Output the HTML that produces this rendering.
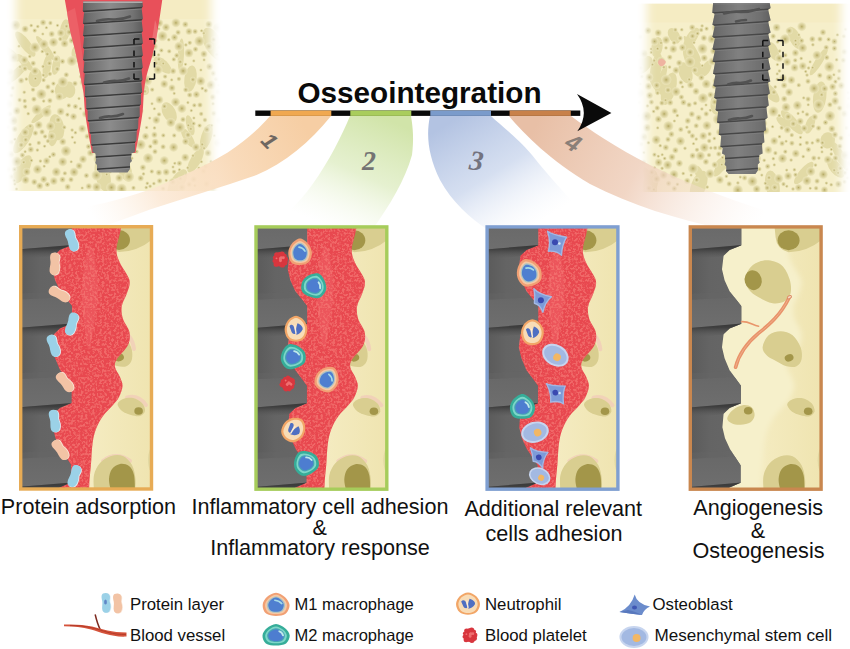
<!DOCTYPE html>
<html lang="en"><head><meta charset="utf-8"><title>Osseointegration</title>
<style>html,body{margin:0;padding:0;background:#fff}svg{display:block}</style></head>
<body><svg width="850" height="649" viewBox="0 0 850 649">
<defs><linearGradient id="gImp" x1="0" x2="1" y1="0" y2="0">
<stop offset="0" stop-color="#565656"/><stop offset=".12" stop-color="#6c6c6c"/><stop offset=".45" stop-color="#8c8c8c"/><stop offset=".8" stop-color="#737373"/><stop offset="1" stop-color="#555"/></linearGradient>
<radialGradient id="gPore"><stop offset="0" stop-color="#b4a962"/><stop offset=".3" stop-color="#cfc58b"/><stop offset=".65" stop-color="#e0d8a6"/><stop offset="1" stop-color="#ede6bc" stop-opacity=".7"/></radialGradient>
<radialGradient id="gPore2"><stop offset="0" stop-color="#cfc588"/><stop offset="1" stop-color="#e6dea9"/></radialGradient>
<filter id="blur6" x="-20%" y="-20%" width="140%" height="140%"><feGaussianBlur stdDeviation="5"/></filter>
<filter id="noise" x="0" y="0" width="100%" height="100%" color-interpolation-filters="sRGB"><feTurbulence type="fractalNoise" baseFrequency="0.42" numOctaves="2" seed="4" result="n"/><feColorMatrix in="n" type="matrix" values="0 0 0 0 0.96  0 0 0 0 0.49  0 0 0 0 0.47  6 0 0 0 -2.75"/></filter>
<filter id="blur1" x="-5%" y="-5%" width="110%" height="110%"><feGaussianBlur stdDeviation="0.7"/></filter>
<filter id="blur3" x="-20%" y="-20%" width="140%" height="140%"><feGaussianBlur stdDeviation="2.5"/></filter>
<mask id="mb1" maskUnits="userSpaceOnUse" x="-7" y="-10" width="241" height="211"><rect x="16" y="-20" width="195" height="231" fill="#fff" filter="url(#blur6)"/></mask>
<clipPath id="cb1"><rect x="3" y="0" width="221" height="191"/></clipPath>
<mask id="mb2" maskUnits="userSpaceOnUse" x="624" y="-6.5" width="240" height="208.5"><rect x="647" y="-16.5" width="194" height="228.5" fill="#fff" filter="url(#blur6)"/></mask>
<clipPath id="cb2"><rect x="634" y="3.5" width="220" height="188.5"/></clipPath>
<clipPath id="ciL"><path d="M83.2 1.5L82.8 10.9L84.1 12.3L82.9 23.1L84.2 24.5L83 35.3L84.2 36.7L83 47.5L84.3 48.9L83.1 59.7L84.4 61.1L83.5 71.9L84.8 73.3L83.9 84.1L85.1 85.5L84.8 96.3L86.1 97.7L86.3 108.5L87.6 109.9L87.7 120.7L89 122.1L89.6 132.9L90.9 134.3L91.3 145.1L92.5 146.5L92.5 152L95.5 153.5L96 160L95.2 163L97 165L97 170L99.5 172.5L127.5 172.5L130 169L130 163L132 161L131 158L131.5 153.5L135 152L135.1 142.1L136.4 140.7L136.8 129.9L138.1 128.5L138.5 117.7L139.8 116.3L139.7 105.5L141 104.1L140.9 93.3L142.2 91.9L141.3 81.1L142.6 79.7L141.5 68.9L142.8 67.5L141.6 56.7L142.9 55.3L141.6 44.5L142.9 43.1L141.6 32.3L142.9 30.9L141.6 20.1L142.9 18.7L141.6 7.9L142.9 6.5L142.4 1.5Z"/></clipPath>
<clipPath id="ciR"><path d="M713.1 3L712.3 12.4L714.7 13.8L712.4 24.6L714.8 26L712.4 36.8L714.9 38.2L712.5 49L715 50.4L712.6 61.2L715.1 62.6L713 73.4L715.4 74.8L713.3 85.6L715.8 87L714.2 97.8L716.7 99.2L715.6 110L718.1 111.4L717 122.2L719.5 123.6L718.8 134.4L721.2 135.8L720.4 146.6L722.8 148L722 153.5L724.9 155L725.4 161.5L724.6 164.5L726.3 166.5L726.3 171.5L728.7 174L755.4 174L757.8 170.5L757.8 164.5L759.7 162.5L758.8 159.5L759.3 155L762.6 153.5L761.9 143.6L764.4 142.2L763.6 131.4L766 130L765.2 119.2L767.6 117.8L766.3 107L768.8 105.6L767.5 94.8L769.9 93.4L767.9 82.6L770.3 81.2L768 70.4L770.5 69L768.1 58.2L770.6 56.8L768.1 46L770.6 44.6L768.1 33.8L770.6 32.4L768.1 21.6L770.6 20.2L768.1 9.4L770.6 8L769.7 3Z"/></clipPath>
<linearGradient id="gs1" gradientUnits="userSpaceOnUse" x1="300" y1="116" x2="95" y2="222"><stop offset="0" stop-color="#f6cea4"/><stop offset=".35" stop-color="#f9dbbb"/><stop offset=".7" stop-color="#fbe6d0" stop-opacity=".8"/><stop offset="1" stop-color="#fdf0e2" stop-opacity="0"/></linearGradient>
<linearGradient id="gs2" gradientUnits="userSpaceOnUse" x1="380" y1="116" x2="330" y2="228"><stop offset="0" stop-color="#d1e4a9"/><stop offset=".5" stop-color="#dfedc4" stop-opacity=".8"/><stop offset="1" stop-color="#f2f8e6" stop-opacity="0"/></linearGradient>
<linearGradient id="gs3" gradientUnits="userSpaceOnUse" x1="460" y1="116" x2="530" y2="228"><stop offset="0" stop-color="#b3c3e2"/><stop offset=".5" stop-color="#cbd7ed" stop-opacity=".8"/><stop offset="1" stop-color="#eef2fa" stop-opacity="0"/></linearGradient>
<linearGradient id="gs4" gradientUnits="userSpaceOnUse" x1="540" y1="116" x2="760" y2="225"><stop offset="0" stop-color="#e8bfa6"/><stop offset=".45" stop-color="#efcfbb" stop-opacity=".85"/><stop offset="1" stop-color="#fbeee6" stop-opacity="0"/></linearGradient>
<pattern id="spk" width="48" height="48" patternUnits="userSpaceOnUse"><g fill="#f6847f" opacity=".6"><circle cx="11.4" cy="26.1" r="0.9"/><circle cx="29" cy="30" r="0.7"/><circle cx="0.6" cy="40.2" r="0.8"/><circle cx="11.2" cy="47.8" r="1"/><circle cx="40.2" cy="22.9" r="1.2"/><circle cx="7.2" cy="30.5" r="1.4"/><circle cx="25.1" cy="35.6" r="1.2"/><circle cx="3.1" cy="36.4" r="1.1"/><circle cx="14.5" cy="1.5" r="1.4"/><circle cx="22.7" cy="34.5" r="1.4"/><circle cx="34.3" cy="44.2" r="1"/><circle cx="38.4" cy="21.3" r="1.4"/><circle cx="42.2" cy="4.7" r="0.7"/><circle cx="10.4" cy="46.3" r="1"/><circle cx="30.1" cy="14.4" r="1.1"/><circle cx="18.5" cy="16.8" r="1.1"/><circle cx="28" cy="43.4" r="1.2"/><circle cx="44.6" cy="41.1" r="1.5"/><circle cx="32.2" cy="7.8" r="1.4"/><circle cx="46.3" cy="43.4" r="1.1"/><circle cx="34.3" cy="10.1" r="1.3"/><circle cx="27.5" cy="13.7" r="0.7"/><circle cx="41" cy="47.5" r="0.7"/><circle cx="38.4" cy="19.7" r="0.7"/><circle cx="14.1" cy="36.9" r="1.4"/><circle cx="2.1" cy="29.5" r="0.6"/><circle cx="34.5" cy="15.9" r="1.4"/><circle cx="47.1" cy="24.3" r="1.5"/><circle cx="14.9" cy="3.7" r="1.1"/><circle cx="1.5" cy="9.5" r="1"/><circle cx="29.3" cy="7.5" r="0.6"/><circle cx="41.7" cy="15.1" r="1.5"/><circle cx="43" cy="18.1" r="1"/><circle cx="25" cy="30.9" r="1.1"/><circle cx="26.8" cy="29.8" r="1.4"/><circle cx="24.3" cy="20.7" r="1.2"/><circle cx="11.4" cy="14.5" r="1.5"/><circle cx="25" cy="26.3" r="0.6"/><circle cx="19.9" cy="27.8" r="0.6"/><circle cx="29.6" cy="30.3" r="0.7"/><circle cx="30.1" cy="22.4" r="1.2"/><circle cx="16.9" cy="33.9" r="1.3"/><circle cx="1.1" cy="2.9" r="1.2"/><circle cx="46.2" cy="12.1" r="1"/><circle cx="28.4" cy="15.4" r="0.9"/><circle cx="15" cy="17.7" r="1.1"/><circle cx="14.4" cy="18.1" r="1.3"/><circle cx="1.3" cy="27.3" r="1.3"/><circle cx="14.9" cy="10.7" r="1.3"/><circle cx="11.5" cy="9" r="1"/><circle cx="33.5" cy="4.9" r="0.9"/><circle cx="16" cy="40" r="1"/><circle cx="41.1" cy="8.1" r="0.9"/><circle cx="31.2" cy="42.5" r="1"/><circle cx="10.8" cy="5.8" r="1.1"/><circle cx="9.2" cy="38.7" r="1.4"/><circle cx="8.8" cy="13.4" r="1.3"/><circle cx="30.8" cy="38.7" r="0.9"/><circle cx="6.2" cy="14" r="1.3"/><circle cx="13" cy="16.6" r="1"/><circle cx="20.1" cy="19.7" r="1.4"/><circle cx="7.5" cy="0.2" r="1.4"/><circle cx="42.2" cy="47.4" r="1"/><circle cx="45.6" cy="44.5" r="0.8"/><circle cx="35.8" cy="40.2" r="1.2"/><circle cx="24.9" cy="13.9" r="0.9"/><circle cx="10.9" cy="3.3" r="1.1"/><circle cx="13.8" cy="38.9" r="0.6"/><circle cx="43.4" cy="33.3" r="1.4"/><circle cx="43" cy="43.2" r="1.1"/><circle cx="0.6" cy="35.8" r="0.8"/><circle cx="14.4" cy="31.8" r="1.1"/><circle cx="19.9" cy="45.1" r="1.2"/><circle cx="16.4" cy="12.1" r="1.4"/><circle cx="22.9" cy="37.6" r="0.9"/><circle cx="9.5" cy="25.7" r="1.3"/><circle cx="8.2" cy="38" r="1.4"/><circle cx="38.7" cy="39.5" r="0.6"/><circle cx="30.2" cy="41.4" r="0.6"/><circle cx="13" cy="12.9" r="1.1"/><circle cx="20.3" cy="22.7" r="1.3"/><circle cx="0.1" cy="2.6" r="0.7"/><circle cx="6" cy="3.3" r="1.5"/><circle cx="41" cy="4.1" r="1.1"/><circle cx="15.2" cy="15.1" r="0.9"/><circle cx="31.1" cy="28.2" r="0.9"/><circle cx="9.2" cy="15.8" r="0.7"/><circle cx="26.7" cy="34.4" r="0.9"/><circle cx="3.8" cy="8.6" r="0.9"/><circle cx="29" cy="37.6" r="0.9"/><circle cx="38.5" cy="29.9" r="1"/><circle cx="17.9" cy="23.8" r="1.2"/><circle cx="20.2" cy="33.3" r="1"/><circle cx="11.8" cy="25.7" r="1.2"/><circle cx="3.4" cy="20.4" r="1"/><circle cx="42.2" cy="45" r="0.9"/><circle cx="43.1" cy="38" r="0.8"/><circle cx="22.3" cy="5.9" r="1.3"/><circle cx="31.8" cy="42.6" r="1.3"/><circle cx="32" cy="35.2" r="1.1"/><circle cx="5" cy="28.2" r="0.6"/><circle cx="6.9" cy="37.2" r="0.6"/><circle cx="4.4" cy="4.8" r="1.4"/><circle cx="8.6" cy="1.1" r="1.4"/><circle cx="5.8" cy="40.5" r="1.2"/><circle cx="40.1" cy="45.7" r="1.1"/><circle cx="38.3" cy="1.7" r="1.3"/><circle cx="24.5" cy="34.3" r="0.7"/><circle cx="36" cy="44.9" r="0.7"/><circle cx="15.6" cy="27.1" r="1.3"/><circle cx="11.6" cy="8.6" r="0.8"/><circle cx="29.6" cy="36.2" r="1"/><circle cx="17.6" cy="19" r="0.9"/><circle cx="20.1" cy="4" r="1.1"/><circle cx="46.7" cy="19.8" r="1.3"/><circle cx="7.7" cy="33.2" r="1.3"/><circle cx="32.3" cy="24.8" r="1"/><circle cx="30.9" cy="43.1" r="0.7"/><circle cx="4.6" cy="35.9" r="1.4"/><circle cx="24.8" cy="21.3" r="1.2"/><circle cx="8.9" cy="12.8" r="0.8"/><circle cx="28.1" cy="15.1" r="0.8"/><circle cx="33.2" cy="45.8" r="0.9"/><circle cx="33.9" cy="19.8" r="1.4"/><circle cx="28.1" cy="12.8" r="0.8"/><circle cx="1.1" cy="23" r="0.9"/><circle cx="8.3" cy="17.3" r="0.9"/><circle cx="37.2" cy="6.9" r="1.5"/><circle cx="23" cy="28.8" r="1"/><circle cx="40.1" cy="39.4" r="1.1"/><circle cx="23.1" cy="34.6" r="1.4"/><circle cx="19.2" cy="35.2" r="1.5"/><circle cx="22.4" cy="11" r="0.8"/><circle cx="34.4" cy="32.4" r="1.5"/><circle cx="41" cy="11.6" r="0.8"/><circle cx="12.4" cy="9" r="1.2"/><circle cx="41.2" cy="43.2" r="0.8"/><circle cx="41.5" cy="15" r="1"/><circle cx="35" cy="4.1" r="0.7"/><circle cx="40" cy="14" r="0.9"/><circle cx="27.9" cy="32.4" r="0.6"/><circle cx="16.1" cy="20.9" r="1"/><circle cx="10.1" cy="28.1" r="1.5"/><circle cx="18.8" cy="26.1" r="0.7"/><circle cx="13.2" cy="31.9" r="0.7"/><circle cx="42.6" cy="43.6" r="0.7"/><circle cx="45.2" cy="18" r="1.3"/><circle cx="36.4" cy="14.2" r="1.2"/><circle cx="31.4" cy="38.7" r="0.8"/><circle cx="36.2" cy="46.1" r="1.2"/><circle cx="25.7" cy="5.4" r="1"/><circle cx="16.9" cy="34.5" r="1.2"/><circle cx="27.2" cy="8.7" r="1.2"/><circle cx="30.3" cy="8.6" r="1.4"/><circle cx="31.5" cy="5.9" r="1.4"/><circle cx="6.8" cy="15.9" r="1.2"/><circle cx="28.7" cy="26.6" r="1.2"/><circle cx="22" cy="15" r="0.8"/><circle cx="3.3" cy="34.4" r="1.3"/><circle cx="26.1" cy="35.5" r="0.9"/><circle cx="12.8" cy="18.4" r="1.4"/><circle cx="2" cy="24.2" r="0.8"/><circle cx="36.9" cy="17" r="0.9"/><circle cx="19.4" cy="26" r="1.3"/><circle cx="16.9" cy="40.7" r="0.7"/><circle cx="13" cy="4.8" r="0.7"/><circle cx="37.4" cy="34.9" r="0.8"/><circle cx="9.1" cy="20" r="1.3"/><circle cx="39.2" cy="35.9" r="1.1"/><circle cx="7" cy="19.1" r="0.8"/><circle cx="25.3" cy="27.3" r="0.8"/><circle cx="12" cy="37.5" r="0.6"/><circle cx="38.6" cy="42.8" r="1.5"/><circle cx="18.4" cy="26.5" r="1.1"/><circle cx="30.4" cy="46.9" r="1.2"/><circle cx="14.4" cy="41.3" r="1"/><circle cx="28.9" cy="34.9" r="0.6"/><circle cx="37" cy="31.8" r="1"/><circle cx="25.1" cy="22.1" r="0.8"/><circle cx="25.4" cy="1.8" r="1.1"/><circle cx="31" cy="21.3" r="1.1"/><circle cx="46" cy="42.8" r="0.7"/><circle cx="38" cy="29.9" r="0.6"/><circle cx="17.3" cy="11.2" r="0.7"/><circle cx="25.9" cy="44.6" r="0.9"/><circle cx="41.8" cy="33.3" r="0.7"/><circle cx="41.2" cy="28.9" r="1.4"/><circle cx="34.4" cy="35.5" r="0.9"/><circle cx="38.7" cy="44.7" r="1.4"/><circle cx="21" cy="36.3" r="1"/><circle cx="5.2" cy="2" r="0.7"/><circle cx="9.6" cy="7.7" r="1"/><circle cx="33.6" cy="25.8" r="1"/><circle cx="31.2" cy="14.6" r="1"/><circle cx="36.3" cy="19.3" r="0.8"/><circle cx="43.2" cy="34.5" r="0.9"/><circle cx="17.8" cy="25.4" r="1.1"/><circle cx="10.7" cy="0.1" r="0.8"/><circle cx="37.6" cy="6.9" r="1"/><circle cx="9.4" cy="10" r="0.8"/><circle cx="19.4" cy="8.1" r="0.6"/><circle cx="5.3" cy="8.1" r="1"/><circle cx="2.9" cy="1.1" r="1"/><circle cx="19.6" cy="33.8" r="0.6"/><circle cx="19.4" cy="19" r="0.6"/><circle cx="46.3" cy="10.5" r="0.7"/><circle cx="22.8" cy="7.9" r="1.2"/><circle cx="16.6" cy="5.9" r="0.6"/><circle cx="34.9" cy="13.2" r="1.3"/><circle cx="22.3" cy="44.8" r="0.9"/><circle cx="12" cy="12.8" r="1.3"/><circle cx="30.2" cy="16.5" r="0.7"/><circle cx="32.8" cy="46.5" r="1.1"/><circle cx="0.2" cy="1.5" r="0.7"/><circle cx="8.2" cy="1.8" r="0.6"/><circle cx="31.4" cy="43.2" r="0.8"/><circle cx="46.7" cy="22.9" r="1.3"/><circle cx="44" cy="45.1" r="0.6"/><circle cx="14.6" cy="29.1" r="1.5"/><circle cx="4.2" cy="14.1" r="1.4"/><circle cx="5.5" cy="18.7" r="0.9"/><circle cx="32.6" cy="44.6" r="0.8"/><circle cx="35.5" cy="35.2" r="1.4"/><circle cx="26.6" cy="44.3" r="0.9"/><circle cx="19.9" cy="11" r="1.3"/><circle cx="23.1" cy="12.9" r="0.8"/><circle cx="34.6" cy="29.1" r="1.2"/><circle cx="18.6" cy="23.4" r="0.7"/><circle cx="34.1" cy="1.1" r="1"/><circle cx="36.4" cy="32.5" r="0.7"/><circle cx="11.4" cy="40.5" r="1.2"/><circle cx="42.2" cy="41.9" r="1"/><circle cx="43.1" cy="35.2" r="0.9"/><circle cx="17.8" cy="3.5" r="1"/><circle cx="45.9" cy="5" r="1.1"/><circle cx="5.3" cy="3.9" r="1.2"/><circle cx="11.6" cy="2.3" r="0.7"/><circle cx="30.9" cy="28.1" r="0.6"/><circle cx="11" cy="46.4" r="0.8"/><circle cx="27" cy="20.1" r="1.3"/><circle cx="29" cy="37.9" r="1.1"/><circle cx="9" cy="8.5" r="0.7"/><circle cx="39.6" cy="5.4" r="0.6"/><circle cx="46.4" cy="9.6" r="1.4"/><circle cx="4.1" cy="22.3" r="0.8"/><circle cx="39.8" cy="29.5" r="1.2"/><circle cx="36.5" cy="41.8" r="0.9"/><circle cx="28.9" cy="21.4" r="0.7"/><circle cx="40.1" cy="28.5" r="1.3"/><circle cx="9.9" cy="25.9" r="1"/><circle cx="34.9" cy="3.7" r="0.9"/><circle cx="23.3" cy="3.4" r="1.1"/><circle cx="35.3" cy="20.3" r="1.2"/><circle cx="29.1" cy="10.3" r="0.9"/><circle cx="47.8" cy="16.1" r="1"/><circle cx="4" cy="10.5" r="0.7"/><circle cx="44.7" cy="34.9" r="1.4"/><circle cx="47.4" cy="29.4" r="1.4"/><circle cx="25.7" cy="20.1" r="1.5"/><circle cx="43.3" cy="45.6" r="1"/></g></pattern>
<linearGradient id="gBone" x1="0" x2="1" y1="0" y2="0"><stop offset="0" stop-color="#f6efc9"/><stop offset=".55" stop-color="#f4ebc0"/><stop offset="1" stop-color="#efe4b0"/></linearGradient>
<rect id="boneB" x="0" y="0" width="134.2" height="265.7" fill="url(#gBone)"/>
<g id="bone" filter="url(#blur1)"><path d="M86 2L134 2L134 14Q118 27 100 27Q88 24 87 12Z" fill="#d9ce90"/><ellipse cx="100" cy="15" rx="11" ry="10" fill="#a3964a"/><path d="M57 52C57.7 48 60.5 42.8 64 40C67.5 37.2 73.2 35 78 35C82.8 35 89.2 36.8 93 40C96.8 43.2 99.5 49.3 101 54C102.5 58.7 102.8 64.3 102 68C101.2 71.7 99 74.3 96 76C93 77.7 88.3 78.7 84 78C79.7 77.3 74 74.3 70 72C66 69.7 62.2 67.3 60 64C57.8 60.7 56.3 56 57 52Z" fill="#d9ce90"/><ellipse cx="64.6" cy="55" rx="8.5" ry="10" fill="#a3964a" transform="rotate(-15 64.6 55)"/><path d="M74 122C74.3 118.7 77 112.7 80 110C83 107.3 88 106 92 106C96 106 100.7 107.3 104 110C107.3 112.7 110.5 118 112 122C113.5 126 113.7 130.8 113 134C112.3 137.2 110.5 139.8 108 141C105.5 142.2 101.7 142 98 141C94.3 140 89.3 136.8 86 135C82.7 133.2 80 132.2 78 130C76 127.8 73.7 125.3 74 122Z" fill="#d9ce90"/><ellipse cx="100.5" cy="132.6" rx="4.5" ry="3.6" fill="#a3964a" transform="rotate(-20 100.5 132.6)"/><path d="M98.6 179C98.8 177 101.4 175 104 174C106.6 173 110.8 172.3 114 173C117.2 173.7 121 175.8 123 178C125 180.2 126.3 183.8 126 186C125.7 188.2 123.3 190.3 121 191C118.7 191.7 115 190.8 112 190C109 189.2 105.2 187.8 103 186C100.8 184.2 98.4 181 98.6 179Z" fill="#d9ce90"/><ellipse cx="119.6" cy="186" rx="4.3" ry="3.8" fill="#a3964a"/><path d="M38.6 193C38.8 190.8 41.4 187.2 44 185C46.6 182.8 50.8 180.5 54 180C57.2 179.5 61 180.3 63 182C65 183.7 66.2 187.5 66 190C65.8 192.5 64.3 195.4 62 197C59.7 198.6 55.2 199.3 52 199.5C48.8 199.7 45.2 199.1 43 198C40.8 196.9 38.4 195.2 38.6 193Z" fill="#d9ce90"/><ellipse cx="59.6" cy="185.5" rx="4.3" ry="3.8" fill="#a3964a"/><path d="M75 266C75 263.3 74 254.7 75 250C76 245.3 78.2 241.2 81 238C83.8 234.8 88.2 232.2 92 231C95.8 229.8 100.5 229.5 104 231C107.5 232.5 110.9 236.2 113 240C115.1 243.8 116 249.7 116.5 254C117 258.3 116.1 264 116 266Z" fill="#d9ce90"/><path d="M92 266C91.7 264 89.8 257.7 90 254C90.2 250.3 91.2 246.5 93 244C94.8 241.5 98.2 239.5 101 239C103.8 238.5 107.7 239.2 110 241C112.3 242.8 114 245.8 115 250C116 254.2 115.8 263.3 116 266Z" fill="#a3964a"/><ellipse cx="134" cy="235" rx="5" ry="13.5" fill="#e2d9a2"/></g>
<g id="pink" fill="none" stroke="#f2cdb9" stroke-linecap="round" opacity=".8"><path d="M108 172.5Q119 169.5 127 180" stroke-width="4"/><path d="M84 236Q97 226 111 236" stroke-width="4"/><path d="M104 108Q113 110 115 124" stroke-width="4"/><path d="M118 6Q125 3 131 8" stroke-width="3" opacity=".7"/></g>
<clipPath id="cImp"><path d="M0 0L52.9 0L52.9 20L41 24.8L35 30.5L33.4 44L36 55L41 66L52.9 81L52.9 98.5L41 103.3L35 109L33.4 122L36 133L41 145L52.4 160.5L52.4 178L41 182.8L35 188.5L33.8 202L36.4 213L41.5 224L52 240L52 257.5L41 262.3L35 266L0 266Z"/></clipPath>
<linearGradient id="gLt" x1="0" x2="0" y1="0" y2="1"><stop offset="0" stop-color="#686868"/><stop offset="1" stop-color="#6e6e6e"/></linearGradient>
<linearGradient id="gSh" x1="0" x2="0" y1="0" y2="1"><stop offset="0" stop-color="#363636"/><stop offset=".3" stop-color="#3f3f3f"/><stop offset="1" stop-color="#5e5e5e" stop-opacity="0"/></linearGradient>
<linearGradient id="gBody" x1="0" x2="1" y1="0" y2="0"><stop offset="0" stop-color="#5a5a5a"/><stop offset=".35" stop-color="#646464"/><stop offset=".7" stop-color="#666"/><stop offset="1" stop-color="#5e5e5e"/></linearGradient>
<g id="imp" clip-path="url(#cImp)"><rect x="0" y="0" width="60" height="265.7" fill="url(#gBody)"/><path d="M0 -4L60 -7L60 19.3L0 24.3Z" fill="url(#gLt)"/><path d="M0 -10L60 -13L60 -7L0 -4Z" fill="#666" opacity=".4"/><path d="M0 24.3L60 19.3L60 29L0 34Z" fill="url(#gSh)"/><path d="M0 74.5L60 71.5L60 97.8L0 102.8Z" fill="url(#gLt)"/><path d="M0 68.5L60 65.5L60 71.5L0 74.5Z" fill="#666" opacity=".4"/><path d="M0 102.8L60 97.8L60 107.5L0 112.5Z" fill="url(#gSh)"/><path d="M0 154L60 151L60 177.3L0 182.3Z" fill="url(#gLt)"/><path d="M0 148L60 145L60 151L0 154Z" fill="#666" opacity=".4"/><path d="M0 182.3L60 177.3L60 187L0 192Z" fill="url(#gSh)"/><path d="M0 233.5L60 230.5L60 256.8L0 261.8Z" fill="url(#gLt)"/><path d="M0 227.5L60 224.5L60 230.5L0 233.5Z" fill="#666" opacity=".4"/><path d="M0 261.8L60 256.8L60 266.5L0 271.5Z" fill="url(#gSh)"/></g>
<clipPath id="cBl"><path d="M0 0L102.8 0C102.5 1.3 101.9 3.8 101 8C100.1 12.2 97.4 20 97.4 25C97.4 30 98.8 33 101 38C103.2 43 109.2 50 110.4 55C111.6 60 109.3 63.7 108 68C106.7 72.3 103.5 76.7 102.8 81C102.1 85.3 102.7 89.7 104 94C105.3 98.3 109.6 102.7 110.4 107C111.2 111.3 111.1 115.5 109 120C106.9 124.5 100.2 130.3 98 134C95.8 137.7 95.5 139 96 142C96.5 145 99.8 148.8 101 152C102.2 155.2 103.7 157.7 103.5 161C103.3 164.3 101.6 168.8 100 172C98.4 175.2 96.7 176.8 94 180C91.3 183.2 86.8 187 84 191C81.2 195 78.7 199.5 77 204C75.3 208.5 74.4 212.2 73.6 218C72.8 223.8 72.5 232.8 72 239C71.5 245.2 70.8 250.5 70.5 255C70.2 259.5 70.1 264.2 70 266L0 266Z"/></clipPath>
<g id="blood"><path d="M0 0L102.8 0C102.5 1.3 101.9 3.8 101 8C100.1 12.2 97.4 20 97.4 25C97.4 30 98.8 33 101 38C103.2 43 109.2 50 110.4 55C111.6 60 109.3 63.7 108 68C106.7 72.3 103.5 76.7 102.8 81C102.1 85.3 102.7 89.7 104 94C105.3 98.3 109.6 102.7 110.4 107C111.2 111.3 111.1 115.5 109 120C106.9 124.5 100.2 130.3 98 134C95.8 137.7 95.5 139 96 142C96.5 145 99.8 148.8 101 152C102.2 155.2 103.7 157.7 103.5 161C103.3 164.3 101.6 168.8 100 172C98.4 175.2 96.7 176.8 94 180C91.3 183.2 86.8 187 84 191C81.2 195 78.7 199.5 77 204C75.3 208.5 74.4 212.2 73.6 218C72.8 223.8 72.5 232.8 72 239C71.5 245.2 70.8 250.5 70.5 255C70.2 259.5 70.1 264.2 70 266L0 266Z" fill="#e8484f"/><path d="M70 20C72.3 16.7 75.5 31.7 77 40C78.5 48.3 79.3 60 79 70C78.7 80 76.5 90.8 75 100C73.5 109.2 71.7 125 70 125C68.3 125 66.2 110.8 65 100C63.8 89.2 62.2 73.3 63 60C63.8 46.7 67.7 23.3 70 20Z" fill="#ec565c" opacity=".9"/><g clip-path="url(#cBl)"><rect x="0" y="0" width="120" height="266" filter="url(#noise)" opacity=".62"/></g></g>
<clipPath id="cP"><rect x="1.5" y="1.5" width="131.2" height="262.7"/></clipPath>
<g id="M1"><path d="M11.9 0C12 3.1 10.6 7.6 8.7 9.7C6.7 11.8 2.9 12.4 0 12.4C-2.9 12.4 -6.8 11.8 -8.7 9.8C-10.7 7.7 -11.9 3.1 -11.7 0C-11.6 -3.1 -10 -6.6 -8 -9C-6.1 -11.3 -2.7 -14 -0 -14C2.7 -14 6 -11.2 8 -8.9C9.9 -6.6 11.7 -3.1 11.9 0Z" fill="#f1a074"/><path d="M9.6 0C9.7 2.6 8.7 6.4 7.1 8.1C5.4 9.8 2.4 10.3 0 10.3C-2.4 10.3 -5.5 9.9 -7.1 8.1C-8.7 6.4 -9.7 2.6 -9.6 0C-9.5 -2.6 -8.1 -5.5 -6.5 -7.5C-4.9 -9.4 -2.2 -11.7 -0 -11.7C2.2 -11.7 4.9 -9.4 6.5 -7.4C8.1 -5.5 9.5 -2.6 9.6 0Z" fill="#f6c8a4"/><path d="M8 0C8.1 2.2 7.2 5.3 5.8 6.8C4.5 8.3 2 8.8 0 8.8C-2 8.8 -4.5 8.3 -5.9 6.8C-7.2 5.4 -8 2.2 -8 0C-7.9 -2.2 -6.8 -4.7 -5.5 -6.4C-4.1 -8 -1.8 -9.8 -0 -9.8C1.8 -9.8 4.1 -8 5.4 -6.3C6.8 -4.7 8 -2.2 8 0Z" fill="#a9c3c4"/><path d="M6.8 0C6.9 1.9 6.1 4.6 5 5.9C3.8 7.2 1.7 7.7 0 7.7C-1.7 7.7 -3.9 7.2 -5 5.9C-6.1 4.7 -6.8 1.9 -6.8 0C-6.7 -1.9 -5.8 -4.1 -4.7 -5.5C-3.5 -7 -1.5 -8.5 -0 -8.5C1.5 -8.5 3.5 -6.9 4.6 -5.5C5.8 -4.1 6.8 -1.9 6.8 0Z" fill="#4f7fd0"/><path d="M-1-5.5q4 .5 6 4" stroke="#a5dbe8" stroke-width="1.7" fill="none" stroke-linecap="round"/></g>
<g id="M2"><path d="M12.7 0C12.8 2.9 11.4 7.2 9.3 9.2C7.2 11.1 3.1 11.5 0 11.5C-3.1 11.5 -7.3 11.2 -9.4 9.2C-11.5 7.3 -12.7 2.9 -12.5 0C-12.4 -2.9 -10.6 -6.2 -8.5 -8.4C-6.4 -10.6 -2.8 -13.3 -0 -13.3C2.8 -13.3 6.3 -10.5 8.4 -8.3C10.5 -6.1 12.5 -2.9 12.7 0Z" fill="#36ad99"/><path d="M10 0C10.2 2.3 9.1 5.7 7.4 7.2C5.7 8.8 2.5 9.1 0 9.1C-2.5 9.1 -5.8 8.8 -7.4 7.3C-9.1 5.8 -10.1 2.3 -10 0C-9.8 -2.3 -8.4 -4.9 -6.7 -6.6C-5.1 -8.4 -2.2 -10.5 -0 -10.5C2.2 -10.5 5 -8.3 6.7 -6.6C8.4 -4.8 9.9 -2.3 10 0Z" fill="#7ed6c8"/><path d="M8.2 0C8.3 1.9 7.4 4.6 6 5.8C4.6 7.1 2 7.6 0 7.6C-2 7.6 -4.7 7.1 -6 5.9C-7.4 4.6 -8.2 1.9 -8.2 0C-8.1 -1.9 -7 -4.1 -5.6 -5.5C-4.2 -6.9 -1.9 -8.4 -0 -8.4C1.9 -8.4 4.2 -6.8 5.6 -5.4C7 -4 8.2 -1.9 8.2 0Z" fill="#46a3b6"/><path d="M7 0C7.1 1.6 6.3 3.9 5.1 5C3.9 6 1.7 6.5 0 6.5C-1.7 6.5 -4 6.1 -5.1 5C-6.3 3.9 -7 1.6 -7 0C-6.9 -1.6 -6 -3.5 -4.8 -4.7C-3.6 -5.8 -1.6 -7.1 -0 -7.1C1.6 -7.1 3.6 -5.8 4.8 -4.6C5.9 -3.4 7 -1.6 7 0Z" fill="#4d7dd0"/><path d="M3-5q3 1.5 3.5 5" stroke="#bfe9ea" stroke-width="1.8" fill="none" stroke-linecap="round"/></g>
<g id="NE"><path d="M11.4 0C11.5 3.1 10.1 7.3 8.2 9.4C6.3 11.5 2.7 12.6 0 12.6C-2.7 12.6 -6.3 11.5 -8.2 9.4C-10.1 7.3 -11.4 3.1 -11.4 0C-11.3 -3.1 -9.8 -6.8 -7.9 -9C-6 -11.2 -2.6 -13.4 -0 -13.4C2.6 -13.4 6 -11.2 7.9 -9C9.8 -6.8 11.4 -3.1 11.4 0Z" fill="#f2a667"/><path d="M9.2 0C9.3 2.5 8.2 6 6.6 7.8C5.1 9.5 2.2 10.5 0 10.5C-2.2 10.5 -5.1 9.6 -6.7 7.8C-8.2 6.1 -9.2 2.5 -9.2 0C-9.1 -2.5 -7.9 -5.6 -6.4 -7.5C-4.8 -9.3 -2.1 -11.1 -0 -11.1C2.1 -11.1 4.8 -9.3 6.4 -7.5C7.9 -5.6 9.2 -2.5 9.2 0Z" fill="#f8dcb6"/><path d="M-6.5-3C-5-5.5-2.5-4.5-2-2L-.5 4.5C-2.5 5.5-4 4-4.5 2.5Z" fill="#4f6fc2"/><path d="M1.5-6C5-5 7.5-1.5 6.5.5C5 3.5 2.5 5 .5 5.5C-.5 3 0-2 1.5-6Z" fill="#4f6fc2"/><path d="M-1.2-4L.2 4.5" stroke="#fbeedd" stroke-width="1.1"/></g>
<g id="OB"><path d="M-9.5-12.5Q-6-9.5 9.5-6.5Q5 1 4.5 11.5Q0 7-8.5 7.5Q-6-2-9.5-12.5Z" fill="#7d9bd8" stroke="#a3b8e4" stroke-width="1.4" stroke-linejoin="round"/><circle cx="-2" cy="-1.5" r="3" fill="#3a49b0"/><circle cx="2.4" cy="-.2" r="1.3" fill="#d9e7f7"/></g>
<g id="OB3"><path d="M-8-11.5Q-3-6 9.5-3.5Q3 2 1 12Q-2 4-7.5 3Q-6.5 -5-8-11.5Z" fill="#7d9bd8" stroke="#a3b8e4" stroke-width="1.4" stroke-linejoin="round"/><circle cx="-1" cy="0" r="3" fill="#3a49b0"/></g>
<g id="OBL"><path d="M.7-10.5Q3-1 16 1.5Q10 4 8 10Q-2 9-14.5 7Q-3 2 .7-10.5Z" fill="#6b8ccc"/><path d="M-14.5 7Q-2 9 8 10Q0 6-6 5Z" fill="#5878bd"/><ellipse cx=".5" cy="2.5" rx="2.5" ry="2" fill="#3f57b3"/></g>
<g id="MSC"><ellipse rx="14" ry="10.5" fill="#c7d5ef"/><ellipse rx="12" ry="8.6" fill="#a3b9e2"/><circle cx="2.5" cy="1" r="3.8" fill="#f2b764"/></g>
<g id="PL"><g fill="#d8363e"><ellipse rx="5.4" ry="6.2"/><circle cx="5.1" cy="0" r="2.6"/><circle cx="4.5" cy="3.2" r="2.7"/><circle cx="2.2" cy="5.3" r="2.7"/><circle cx="-0.6" cy="4.7" r="2.3"/><circle cx="-3.6" cy="4.7" r="2.5"/><circle cx="-5.2" cy="1.7" r="2"/><circle cx="-4.7" cy="-1.5" r="2.1"/><circle cx="-3.2" cy="-4.2" r="2.4"/><circle cx="-0.6" cy="-4.7" r="2.1"/><circle cx="1.9" cy="-4.7" r="2.7"/><circle cx="4.4" cy="-3.2" r="2"/></g><g fill="#ef6f70"><circle cx="0.3" cy="-1" r="1.2"/><circle cx="0.4" cy="0.4" r="1.3"/><circle cx="0.4" cy="1.4" r="1.4"/><circle cx="1.2" cy="-1.3" r="1.4"/><circle cx="-3.3" cy="-0.8" r="0.9"/><circle cx="3.2" cy="-1.3" r="1.4"/><circle cx="1.4" cy="-1.1" r="1"/><circle cx="0.6" cy="1" r="0.8"/></g></g>
<g id="PB"><path d="M-3.6-11.5C-.5-13.3 4.2-12.2 4.8-8.2C5.2-5 3.8-3.2 4.7-.8C6 2.5 6.2 7.5 4 10.3C1.5 13-3 12.5-4.3 9C-5.5 5.5-3.8 1-4.6-2.5C-5.6-6.5-6-10-3.6-11.5Z" fill="#e3eff5" transform="translate(.9 .3)"/><path d="M-3.6-11.5C-.5-13.3 4.2-12.2 4.8-8.2C5.2-5 3.8-3.2 4.7-.8C6 2.5 6.2 7.5 4 10.3C1.5 13-3 12.5-4.3 9C-5.5 5.5-3.8 1-4.6-2.5C-5.6-6.5-6-10-3.6-11.5Z" fill="#9bd1e7"/></g>
<g id="PP"><path d="M-3.6-11.5C-.5-13.3 4.2-12.2 4.8-8.2C5.2-5 3.8-3.2 4.7-.8C6 2.5 6.2 7.5 4 10.3C1.5 13-3 12.5-4.3 9C-5.5 5.5-3.8 1-4.6-2.5C-5.6-6.5-6-10-3.6-11.5Z" fill="#f9e6d8" transform="translate(.9 .3)"/><path d="M-3.6-11.5C-.5-13.3 4.2-12.2 4.8-8.2C5.2-5 3.8-3.2 4.7-.8C6 2.5 6.2 7.5 4 10.3C1.5 13-3 12.5-4.3 9C-5.5 5.5-3.8 1-4.6-2.5C-5.6-6.5-6-10-3.6-11.5Z" fill="#f2c3a5"/></g></defs>
<rect width="850" height="649" fill="#fff"/>
<g clip-path="url(#cb1)"><g mask="url(#mb1)"><rect x="3" y="0" width="221" height="191" fill="#f6efca"/><rect x="3" y="0" width="221" height="19" fill="#f5ecc3"/><ellipse cx="77.4" cy="53.4" rx="5.9" ry="8.7" fill="#e2daa6" transform="rotate(3.6 77.4 53.4)"/><ellipse cx="86" cy="39" rx="5.3" ry="8.3" fill="#e2daa6" transform="rotate(-6.6 86 39)"/><ellipse cx="25.3" cy="44.1" rx="4.9" ry="15.4" fill="#e2daa6" transform="rotate(-37.6 25.3 44.1)"/><ellipse cx="56.8" cy="127.3" rx="7.3" ry="13.2" fill="#e2daa6" transform="rotate(-10.3 56.8 127.3)"/><ellipse cx="211.1" cy="37.2" rx="6.9" ry="10.6" fill="#e2daa6" transform="rotate(-35.6 211.1 37.2)"/><ellipse cx="35.1" cy="77.8" rx="6.7" ry="9.6" fill="#e2daa6" transform="rotate(8.2 35.1 77.8)"/><ellipse cx="142" cy="87.7" rx="5.5" ry="8.6" fill="#e2daa6" transform="rotate(-44 142 87.7)"/><ellipse cx="53.2" cy="135.5" rx="4.9" ry="10.8" fill="#e2daa6" transform="rotate(8.6 53.2 135.5)"/><ellipse cx="103.9" cy="76.5" rx="6.6" ry="14.3" fill="#e2daa6" transform="rotate(-25.6 103.9 76.5)"/><ellipse cx="128.8" cy="111.4" rx="6.9" ry="14.6" fill="#e2daa6" transform="rotate(-21.2 128.8 111.4)"/><ellipse cx="211.9" cy="48.3" rx="4.9" ry="14.8" fill="#e2daa6" transform="rotate(-34.8 211.9 48.3)"/><ellipse cx="111.2" cy="36.1" rx="6" ry="14.9" fill="#e2daa6" transform="rotate(7.3 111.2 36.1)"/><ellipse cx="190.5" cy="78.6" rx="6.1" ry="13.3" fill="#e2daa6" transform="rotate(8 190.5 78.6)"/><ellipse cx="104.5" cy="160.2" rx="7.3" ry="12.3" fill="#e2daa6" transform="rotate(16.4 104.5 160.2)"/><ellipse cx="23.4" cy="138.7" rx="5.9" ry="16.9" fill="#e2daa6" transform="rotate(32.2 23.4 138.7)"/><ellipse cx="69.3" cy="89.8" rx="6" ry="8.2" fill="#e2daa6" transform="rotate(-3.8 69.3 89.8)"/><ellipse cx="45.4" cy="48.1" rx="3.3" ry="14.9" fill="#e2daa6" transform="rotate(-37.1 45.4 48.1)"/><ellipse cx="61.8" cy="90.6" rx="6.9" ry="8.7" fill="#e2daa6" transform="rotate(-5.1 61.8 90.6)"/><ellipse cx="123.6" cy="166.9" rx="6.7" ry="15.8" fill="#e2daa6" transform="rotate(-22.2 123.6 166.9)"/><ellipse cx="96.1" cy="85.6" rx="7" ry="16.6" fill="#e2daa6" transform="rotate(-34.9 96.1 85.6)"/><ellipse cx="47.1" cy="66" rx="4.1" ry="12.4" fill="#e2daa6" transform="rotate(8.9 47.1 66)"/><ellipse cx="64.9" cy="30.6" rx="4.9" ry="11.3" fill="#e2daa6" transform="rotate(6.6 64.9 30.6)"/><ellipse cx="206.4" cy="137" rx="5.3" ry="13.6" fill="#e2daa6" transform="rotate(17.6 206.4 137)"/><ellipse cx="22.1" cy="169.4" rx="6.5" ry="15.9" fill="#e2daa6" transform="rotate(29.8 22.1 169.4)"/><ellipse cx="91.4" cy="91.8" rx="3.5" ry="13.7" fill="#e2daa6" transform="rotate(-43.8 91.4 91.8)"/><ellipse cx="24.8" cy="62.4" rx="3.7" ry="11.1" fill="#e2daa6" transform="rotate(-44.7 24.8 62.4)"/><ellipse cx="11" cy="53.4" rx="3.5" ry="11.3" fill="#e2daa6" transform="rotate(-47.4 11 53.4)"/><ellipse cx="190.2" cy="125.2" rx="3.7" ry="10.3" fill="#e2daa6" transform="rotate(-15.3 190.2 125.2)"/><ellipse cx="85.7" cy="49" rx="6.8" ry="16.9" fill="#e2daa6" transform="rotate(-3.4 85.7 49)"/><ellipse cx="110.2" cy="43.3" rx="3.5" ry="11.1" fill="#e2daa6" transform="rotate(-23.5 110.2 43.3)"/><ellipse cx="180.9" cy="55" rx="3.1" ry="16.6" fill="#e2daa6" transform="rotate(2.8 180.9 55)"/><ellipse cx="41.1" cy="114.2" rx="3.1" ry="12.8" fill="#e2daa6" transform="rotate(47.9 41.1 114.2)"/><ellipse cx="188" cy="137.9" rx="4.2" ry="11.3" fill="#e2daa6" transform="rotate(-33.3 188 137.9)"/><ellipse cx="169.2" cy="112.6" rx="6.5" ry="11" fill="#e2daa6" transform="rotate(-27.7 169.2 112.6)"/><ellipse cx="177.4" cy="182.7" rx="6.8" ry="15.3" fill="#e2daa6" transform="rotate(31.8 177.4 182.7)"/><ellipse cx="162.7" cy="65.1" rx="5.3" ry="11.2" fill="#e2daa6" transform="rotate(-47.1 162.7 65.1)"/><ellipse cx="16.7" cy="73.3" rx="4.2" ry="14.2" fill="#e2daa6" transform="rotate(45.7 16.7 73.3)"/><ellipse cx="102.7" cy="175.2" rx="7.4" ry="16.6" fill="#e2daa6" transform="rotate(-13.5 102.7 175.2)"/><ellipse cx="56.2" cy="65.2" rx="3.9" ry="9.8" fill="#e2daa6" transform="rotate(12.4 56.2 65.2)"/><ellipse cx="195.6" cy="160.3" rx="5.2" ry="13.9" fill="#e2daa6" transform="rotate(30 195.6 160.3)"/><circle cx="25.1" cy="132.3" r="4" fill="url(#gPore)"/><circle cx="173.6" cy="147.3" r="4.6" fill="url(#gPore)"/><circle cx="196.4" cy="94.5" r="3.6" fill="url(#gPore)"/><circle cx="25.5" cy="180" r="4" fill="url(#gPore)"/><circle cx="105.7" cy="146.1" r="2" fill="url(#gPore)"/><circle cx="161.4" cy="50.4" r="2.4" fill="url(#gPore)"/><circle cx="12.9" cy="120.7" r="4.6" fill="url(#gPore)"/><circle cx="178.8" cy="46.4" r="4.6" fill="url(#gPore)"/><circle cx="147" cy="80.5" r="5.2" fill="url(#gPore)"/><circle cx="123.8" cy="25.6" r="2" fill="url(#gPore)"/><circle cx="119.2" cy="177.9" r="4" fill="url(#gPore)"/><circle cx="217.1" cy="54.5" r="2.8" fill="url(#gPore)"/><circle cx="13" cy="57.5" r="5.2" fill="url(#gPore)"/><circle cx="58.2" cy="119.9" r="3.2" fill="url(#gPore)"/><circle cx="122.9" cy="161.3" r="1.8" fill="url(#gPore)"/><circle cx="200.8" cy="81.1" r="4.6" fill="url(#gPore)"/><circle cx="148.1" cy="158.1" r="5.2" fill="url(#gPore)"/><circle cx="96.6" cy="175.3" r="5.2" fill="url(#gPore)"/><circle cx="34.9" cy="47.4" r="5.2" fill="url(#gPore)"/><circle cx="11" cy="95.5" r="2.4" fill="url(#gPore)"/><circle cx="136.6" cy="151.6" r="2.4" fill="url(#gPore)"/><circle cx="43.7" cy="101.1" r="2" fill="url(#gPore)"/><circle cx="125.5" cy="76.4" r="5.2" fill="url(#gPore)"/><circle cx="120" cy="102.6" r="2" fill="url(#gPore)"/><circle cx="195.1" cy="31.5" r="2.8" fill="url(#gPore)"/><circle cx="66" cy="151" r="5.2" fill="url(#gPore)"/><circle cx="103.3" cy="26.7" r="2" fill="url(#gPore)"/><circle cx="101.4" cy="124.3" r="5.2" fill="url(#gPore)"/><circle cx="136.1" cy="55.3" r="3.2" fill="url(#gPore)"/><circle cx="103.3" cy="111.1" r="4.6" fill="url(#gPore)"/><circle cx="115.2" cy="63.4" r="5.2" fill="url(#gPore)"/><circle cx="193.7" cy="179.3" r="3.2" fill="url(#gPore)"/><circle cx="203.6" cy="171.1" r="2.8" fill="url(#gPore)"/><circle cx="185.9" cy="44.9" r="2" fill="url(#gPore)"/><circle cx="90.6" cy="74.8" r="2.8" fill="url(#gPore)"/><circle cx="98.2" cy="57.5" r="3.2" fill="url(#gPore)"/><circle cx="174" cy="171.8" r="2.4" fill="url(#gPore)"/><circle cx="207.1" cy="129.5" r="3.6" fill="url(#gPore)"/><circle cx="37.5" cy="169.4" r="4.6" fill="url(#gPore)"/><circle cx="53.8" cy="181.1" r="4" fill="url(#gPore)"/><circle cx="195.5" cy="49.2" r="2.8" fill="url(#gPore)"/><circle cx="41.4" cy="94.1" r="5.2" fill="url(#gPore)"/><circle cx="93" cy="92.4" r="3.6" fill="url(#gPore)"/><circle cx="74.8" cy="142.6" r="1.8" fill="url(#gPore)"/><circle cx="79" cy="98.6" r="1.8" fill="url(#gPore)"/><circle cx="88.9" cy="108.4" r="3.2" fill="url(#gPore)"/><circle cx="116.1" cy="32.7" r="2.8" fill="url(#gPore)"/><circle cx="214" cy="39.5" r="3.2" fill="url(#gPore)"/><circle cx="64.9" cy="173.3" r="2.4" fill="url(#gPore)"/><circle cx="64.6" cy="43.6" r="4" fill="url(#gPore)"/><circle cx="188" cy="134.9" r="3.2" fill="url(#gPore)"/><circle cx="128.5" cy="139" r="2" fill="url(#gPore)"/><circle cx="97.6" cy="34.1" r="1.8" fill="url(#gPore)"/><circle cx="218.8" cy="91.8" r="3.2" fill="url(#gPore)"/><circle cx="139.4" cy="29.2" r="2.8" fill="url(#gPore)"/><circle cx="206.8" cy="183.9" r="3.2" fill="url(#gPore)"/><circle cx="140.9" cy="110.7" r="2.8" fill="url(#gPore)"/><circle cx="68.8" cy="105.5" r="2.4" fill="url(#gPore)"/><circle cx="14.9" cy="25.1" r="5.2" fill="url(#gPore)"/><circle cx="124.4" cy="53.6" r="4.6" fill="url(#gPore)"/><circle cx="59.3" cy="96.7" r="4" fill="url(#gPore)"/><circle cx="213.7" cy="73.4" r="2.8" fill="url(#gPore)"/><circle cx="216.3" cy="79.2" r="2.4" fill="url(#gPore)"/><circle cx="93.2" cy="80" r="1.8" fill="url(#gPore)"/><circle cx="185.3" cy="24.4" r="3.2" fill="url(#gPore)"/><circle cx="134.5" cy="137.7" r="1.8" fill="url(#gPore)"/><circle cx="104.9" cy="48.3" r="4.6" fill="url(#gPore)"/><circle cx="7.8" cy="82.8" r="3.6" fill="url(#gPore)"/><circle cx="214.2" cy="113.4" r="2.8" fill="url(#gPore)"/><circle cx="14.3" cy="169.4" r="2.8" fill="url(#gPore)"/><circle cx="83" cy="22.2" r="4" fill="url(#gPore)"/><circle cx="24.9" cy="68.6" r="2.8" fill="url(#gPore)"/><circle cx="132" cy="87.8" r="3.2" fill="url(#gPore)"/><circle cx="71.8" cy="60.9" r="5.2" fill="url(#gPore)"/><circle cx="38.8" cy="142.9" r="2.4" fill="url(#gPore)"/><circle cx="16.3" cy="161.5" r="5.2" fill="url(#gPore)"/><circle cx="140.6" cy="144.6" r="5.2" fill="url(#gPore)"/><circle cx="36.7" cy="109.5" r="5.2" fill="url(#gPore)"/><circle cx="128.1" cy="157.8" r="1.8" fill="url(#gPore)"/><circle cx="183" cy="119.5" r="2.8" fill="url(#gPore)"/><circle cx="25.1" cy="29" r="3.6" fill="url(#gPore)"/><circle cx="211.4" cy="84.9" r="4.6" fill="url(#gPore)"/><circle cx="126" cy="126.8" r="5.2" fill="url(#gPore)"/><circle cx="152" cy="103.7" r="1.8" fill="url(#gPore)"/><circle cx="104.3" cy="33.7" r="5.2" fill="url(#gPore)"/><circle cx="21.1" cy="145" r="3.2" fill="url(#gPore)"/><circle cx="179.4" cy="163.3" r="2.8" fill="url(#gPore)"/><circle cx="112.2" cy="85.9" r="4.6" fill="url(#gPore)"/><circle cx="200.9" cy="70" r="1.8" fill="url(#gPore)"/><circle cx="138.4" cy="129.3" r="2" fill="url(#gPore)"/><circle cx="134.7" cy="77.4" r="3.2" fill="url(#gPore)"/><circle cx="139.3" cy="44.3" r="4.6" fill="url(#gPore)"/><circle cx="19.9" cy="66.9" r="2" fill="url(#gPore)"/><circle cx="154.4" cy="134.8" r="3.2" fill="url(#gPore)"/><circle cx="158" cy="69.7" r="4.6" fill="url(#gPore)"/><circle cx="213.2" cy="97.1" r="3.2" fill="url(#gPore)"/><circle cx="62.8" cy="82" r="5.2" fill="url(#gPore)"/><circle cx="56.3" cy="171.9" r="4.6" fill="url(#gPore)"/><circle cx="90.9" cy="48.6" r="4.6" fill="url(#gPore)"/><circle cx="152.2" cy="89.7" r="2.4" fill="url(#gPore)"/><circle cx="95.6" cy="84.8" r="2" fill="url(#gPore)"/><circle cx="158.9" cy="172.6" r="3.2" fill="url(#gPore)"/><circle cx="60.9" cy="32.9" r="4" fill="url(#gPore)"/><circle cx="219.7" cy="120.4" r="3.6" fill="url(#gPore)"/><circle cx="204.1" cy="148.2" r="1.8" fill="url(#gPore)"/><circle cx="99.9" cy="74.7" r="3.6" fill="url(#gPore)"/><circle cx="174.2" cy="93.4" r="1.8" fill="url(#gPore)"/><circle cx="179.9" cy="127.4" r="5.2" fill="url(#gPore)"/><circle cx="124" cy="142.2" r="1.8" fill="url(#gPore)"/><circle cx="205.8" cy="90.6" r="2.4" fill="url(#gPore)"/><circle cx="144.3" cy="69.8" r="1.8" fill="url(#gPore)"/><circle cx="201.2" cy="113.9" r="2.4" fill="url(#gPore)"/><circle cx="107.6" cy="79.4" r="3.2" fill="url(#gPore)"/><circle cx="125.7" cy="87.9" r="2.4" fill="url(#gPore)"/><circle cx="200" cy="105" r="2.8" fill="url(#gPore)"/><circle cx="26.3" cy="79.1" r="2" fill="url(#gPore)"/><circle cx="75" cy="83.5" r="2.8" fill="url(#gPore)"/><circle cx="196" cy="147.2" r="4" fill="url(#gPore)"/><circle cx="88.5" cy="146.6" r="2.8" fill="url(#gPore)"/><circle cx="87.3" cy="78.5" r="1.8" fill="url(#gPore)"/><circle cx="113.1" cy="117.9" r="3.6" fill="url(#gPore)"/><circle cx="26.7" cy="171.8" r="4" fill="url(#gPore)"/><circle cx="187.8" cy="167.8" r="1.8" fill="url(#gPore)"/><circle cx="213.2" cy="103.8" r="2" fill="url(#gPore)"/><circle cx="189.2" cy="184.4" r="2.8" fill="url(#gPore)"/><circle cx="173.8" cy="59.4" r="2.4" fill="url(#gPore)"/><circle cx="118.3" cy="135.9" r="4.6" fill="url(#gPore)"/><circle cx="25.1" cy="151.7" r="1.8" fill="url(#gPore)"/><circle cx="155.8" cy="40.7" r="2" fill="url(#gPore)"/><circle cx="71" cy="179.6" r="2.8" fill="url(#gPore)"/><circle cx="89.7" cy="59.3" r="1.8" fill="url(#gPore)"/><circle cx="9.2" cy="72.4" r="4.6" fill="url(#gPore)"/><circle cx="66.3" cy="74.8" r="2.8" fill="url(#gPore)"/><circle cx="24.3" cy="60" r="4" fill="url(#gPore)"/><circle cx="204.1" cy="59.9" r="1.8" fill="url(#gPore)"/><circle cx="155.2" cy="142" r="3.6" fill="url(#gPore)"/><circle cx="152.4" cy="55.1" r="3.2" fill="url(#gPore)"/><circle cx="164.4" cy="106.3" r="2.8" fill="url(#gPore)"/><circle cx="112.6" cy="55.5" r="2.8" fill="url(#gPore)"/><circle cx="56.2" cy="59" r="3.2" fill="url(#gPore)"/><circle cx="30.2" cy="126.1" r="2.4" fill="url(#gPore)"/><circle cx="209.1" cy="46.4" r="4" fill="url(#gPore)"/><circle cx="95.5" cy="140.5" r="2.4" fill="url(#gPore)"/><circle cx="163.1" cy="188.6" r="2.4" fill="url(#gPore)"/><circle cx="166" cy="27.3" r="4" fill="url(#gPore)"/><circle cx="43.1" cy="22.5" r="3.2" fill="url(#gPore)"/><circle cx="24.2" cy="92.2" r="2" fill="url(#gPore)"/><circle cx="126.5" cy="148.7" r="4" fill="url(#gPore)"/><circle cx="83" cy="159.2" r="4" fill="url(#gPore)"/><circle cx="25.7" cy="139.8" r="2.8" fill="url(#gPore)"/><circle cx="86.4" cy="175.6" r="2.8" fill="url(#gPore)"/><circle cx="178.1" cy="32.4" r="2.8" fill="url(#gPore)"/><circle cx="166.2" cy="172.1" r="3.6" fill="url(#gPore)"/><circle cx="62.8" cy="141.7" r="3.6" fill="url(#gPore)"/><circle cx="159.4" cy="99.8" r="4" fill="url(#gPore)"/><circle cx="105.1" cy="152.9" r="2" fill="url(#gPore)"/><circle cx="215.8" cy="169.5" r="2" fill="url(#gPore)"/><circle cx="96.7" cy="187.1" r="4.6" fill="url(#gPore)"/><circle cx="43.9" cy="44.2" r="4.6" fill="url(#gPore)"/><circle cx="173.1" cy="71.1" r="3.2" fill="url(#gPore)"/><circle cx="49.4" cy="63.3" r="2.8" fill="url(#gPore)"/><circle cx="57.2" cy="69" r="2.8" fill="url(#gPore)"/><circle cx="146.2" cy="187.5" r="2" fill="url(#gPore)"/><circle cx="8" cy="169.4" r="2.8" fill="url(#gPore)"/><circle cx="186" cy="174.7" r="1.8" fill="url(#gPore)"/><circle cx="193.8" cy="60.9" r="1.8" fill="url(#gPore)"/><circle cx="47.4" cy="184.5" r="2.8" fill="url(#gPore)"/><circle cx="102.7" cy="65.4" r="1.8" fill="url(#gPore)"/><circle cx="53.4" cy="83.6" r="2.4" fill="url(#gPore)"/><circle cx="16.4" cy="189" r="1.8" fill="url(#gPore)"/><circle cx="123.7" cy="32.6" r="2" fill="url(#gPore)"/><circle cx="143.1" cy="37.2" r="2.4" fill="url(#gPore)"/><circle cx="91.7" cy="67.3" r="3.2" fill="url(#gPore)"/><circle cx="73.5" cy="116.6" r="3.6" fill="url(#gPore)"/><circle cx="95.2" cy="25" r="3.6" fill="url(#gPore)"/><circle cx="50.4" cy="23" r="2.4" fill="url(#gPore)"/><circle cx="97.3" cy="159" r="4" fill="url(#gPore)"/><circle cx="34.7" cy="30.6" r="2.4" fill="url(#gPore)"/><circle cx="143.5" cy="173.9" r="2" fill="url(#gPore)"/><circle cx="129" cy="176.8" r="5.2" fill="url(#gPore)"/><circle cx="43.6" cy="80.1" r="2.4" fill="url(#gPore)"/><circle cx="71.2" cy="161.8" r="1.8" fill="url(#gPore)"/><circle cx="199.6" cy="125.6" r="2.4" fill="url(#gPore)"/><circle cx="33.2" cy="63.3" r="2.8" fill="url(#gPore)"/><circle cx="134.7" cy="113.9" r="3.2" fill="url(#gPore)"/><circle cx="138.8" cy="103.7" r="2.8" fill="url(#gPore)"/><circle cx="185.2" cy="157.4" r="4" fill="url(#gPore)"/><circle cx="21" cy="80.6" r="3.2" fill="url(#gPore)"/><circle cx="75" cy="28.2" r="2.4" fill="url(#gPore)"/><circle cx="92.9" cy="128.3" r="3.2" fill="url(#gPore)"/><circle cx="151.8" cy="171.5" r="2.4" fill="url(#gPore)"/><circle cx="125.3" cy="118.9" r="2" fill="url(#gPore)"/><circle cx="60.7" cy="111.5" r="4" fill="url(#gPore)"/><circle cx="164.2" cy="84" r="4" fill="url(#gPore)"/><circle cx="77.5" cy="35.6" r="2.8" fill="url(#gPore)"/><circle cx="44.6" cy="146.2" r="1.8" fill="url(#gPore)"/><circle cx="163.1" cy="146.8" r="2.8" fill="url(#gPore)"/><circle cx="38.8" cy="124.9" r="4" fill="url(#gPore)"/><circle cx="50.5" cy="126.2" r="4.6" fill="url(#gPore)"/><circle cx="142.9" cy="167.5" r="3.2" fill="url(#gPore)"/><circle cx="163.2" cy="63.5" r="1.8" fill="url(#gPore)"/><circle cx="16.4" cy="110.8" r="4" fill="url(#gPore)"/><circle cx="9.6" cy="114" r="2.8" fill="url(#gPore)"/><circle cx="144.9" cy="91.3" r="2.4" fill="url(#gPore)"/><circle cx="218.7" cy="143" r="4.6" fill="url(#gPore)"/><circle cx="159.4" cy="23.1" r="4" fill="url(#gPore)"/><circle cx="25.2" cy="106.7" r="2.4" fill="url(#gPore)"/><circle cx="62.5" cy="61.4" r="2.8" fill="url(#gPore)"/><circle cx="47.9" cy="86.9" r="2.8" fill="url(#gPore)"/><circle cx="107" cy="162.2" r="1.8" fill="url(#gPore)"/><circle cx="189.7" cy="95" r="2.8" fill="url(#gPore)"/><circle cx="90.4" cy="119.8" r="2.4" fill="url(#gPore)"/><circle cx="37.8" cy="26.5" r="2" fill="url(#gPore)"/><circle cx="154.5" cy="127.9" r="2" fill="url(#gPore)"/><circle cx="29.8" cy="56.4" r="2" fill="url(#gPore)"/><circle cx="14.2" cy="180.5" r="2" fill="url(#gPore)"/><circle cx="170.8" cy="122.5" r="4.6" fill="url(#gPore)"/><circle cx="188.3" cy="125.3" r="1.8" fill="url(#gPore)"/><circle cx="171.7" cy="79.9" r="1.8" fill="url(#gPore)"/><circle cx="7.9" cy="104" r="4.6" fill="url(#gPore)"/><circle cx="62.5" cy="179.6" r="3.2" fill="url(#gPore)"/><circle cx="180.6" cy="178.7" r="2.8" fill="url(#gPore)"/><circle cx="113.1" cy="40.4" r="2" fill="url(#gPore)"/><circle cx="111.4" cy="187.5" r="5.2" fill="url(#gPore)"/><circle cx="81.2" cy="76.6" r="2.4" fill="url(#gPore)"/><circle cx="33.9" cy="99.2" r="2.8" fill="url(#gPore)"/><circle cx="76.9" cy="53.6" r="2" fill="url(#gPore)"/><circle cx="42.1" cy="131.9" r="2.8" fill="url(#gPore)"/><circle cx="88.8" cy="186.3" r="3.2" fill="url(#gPore)"/><circle cx="156.3" cy="120.1" r="4" fill="url(#gPore)"/><circle cx="99.1" cy="65.4" r="2" fill="url(#gPore)"/><circle cx="187.9" cy="102.6" r="1.8" fill="url(#gPore)"/><circle cx="139.4" cy="90.4" r="2.4" fill="url(#gPore)"/><circle cx="159.6" cy="180.9" r="2.8" fill="url(#gPore)"/><circle cx="10.4" cy="154.4" r="3.6" fill="url(#gPore)"/><circle cx="51.7" cy="136.3" r="4" fill="url(#gPore)"/><circle cx="142.8" cy="64.2" r="4" fill="url(#gPore)"/><circle cx="130.6" cy="40.2" r="3.2" fill="url(#gPore)"/><circle cx="213.9" cy="188" r="4" fill="url(#gPore)"/><circle cx="82.2" cy="128.7" r="4" fill="url(#gPore)"/><circle cx="109.1" cy="93.6" r="2" fill="url(#gPore)"/><circle cx="189" cy="31.5" r="3.6" fill="url(#gPore)"/><circle cx="141.9" cy="24.5" r="1.8" fill="url(#gPore)"/><circle cx="51.7" cy="34" r="3.2" fill="url(#gPore)"/><circle cx="60.3" cy="39" r="2.4" fill="url(#gPore)"/><circle cx="188.9" cy="53" r="4.6" fill="url(#gPore)"/><circle cx="80.8" cy="47.5" r="4" fill="url(#gPore)"/><circle cx="23.7" cy="162.2" r="2" fill="url(#gPore)"/><circle cx="125.2" cy="66.2" r="2.8" fill="url(#gPore)"/><circle cx="19.5" cy="100" r="2.4" fill="url(#gPore)"/><circle cx="156.2" cy="63.2" r="2.4" fill="url(#gPore)"/><circle cx="121.9" cy="166.1" r="1.8" fill="url(#gPore)"/><circle cx="110.2" cy="171.9" r="1.8" fill="url(#gPore)"/><circle cx="52.4" cy="91.4" r="2.4" fill="url(#gPore)"/><circle cx="79.1" cy="165.9" r="3.6" fill="url(#gPore)"/><circle cx="79.8" cy="64" r="1.8" fill="url(#gPore)"/><circle cx="183.1" cy="70.9" r="4.6" fill="url(#gPore)"/><circle cx="192.9" cy="79.6" r="2.8" fill="url(#gPore)"/><circle cx="48" cy="141.1" r="2.4" fill="url(#gPore)"/><circle cx="140.2" cy="51" r="2.4" fill="url(#gPore)"/><circle cx="46.4" cy="27.7" r="1.8" fill="url(#gPore)"/><circle cx="113" cy="109.2" r="2" fill="url(#gPore)"/><circle cx="133.5" cy="187.9" r="2.4" fill="url(#gPore)"/><circle cx="24.7" cy="100.9" r="2.4" fill="url(#gPore)"/><circle cx="53.5" cy="42.3" r="4.6" fill="url(#gPore)"/><circle cx="10.8" cy="142.1" r="2.8" fill="url(#gPore)"/><circle cx="162.4" cy="36.1" r="5.2" fill="url(#gPore)"/><circle cx="201.6" cy="30.8" r="1.8" fill="url(#gPore)"/><circle cx="211" cy="161.4" r="1.8" fill="url(#gPore)"/><circle cx="208.3" cy="153" r="3.6" fill="url(#gPore)"/><circle cx="69.3" cy="32.1" r="3.6" fill="url(#gPore)"/><circle cx="87.2" cy="136.4" r="2.8" fill="url(#gPore)"/><circle cx="132" cy="158.3" r="1.8" fill="url(#gPore)"/><circle cx="120.9" cy="112.2" r="4.6" fill="url(#gPore)"/><circle cx="176.8" cy="55.5" r="2.8" fill="url(#gPore)"/><circle cx="106.1" cy="56.5" r="3.2" fill="url(#gPore)"/><circle cx="131.9" cy="23.6" r="4" fill="url(#gPore)"/><circle cx="75.4" cy="106.5" r="2.8" fill="url(#gPore)"/><circle cx="47.3" cy="54.1" r="2.4" fill="url(#gPore)"/><circle cx="86.7" cy="39.7" r="4.6" fill="url(#gPore)"/><circle cx="80.5" cy="108.7" r="1.8" fill="url(#gPore)"/><circle cx="218.9" cy="85.2" r="1.8" fill="url(#gPore)"/><circle cx="110.7" cy="163.2" r="2" fill="url(#gPore)"/><circle cx="190.8" cy="128.9" r="2" fill="url(#gPore)"/><circle cx="43.7" cy="179.3" r="3.6" fill="url(#gPore)"/><circle cx="18.9" cy="46.2" r="1.8" fill="url(#gPore)"/><circle cx="132.6" cy="95.7" r="2" fill="url(#gPore)"/><circle cx="106.7" cy="174.4" r="1.8" fill="url(#gPore)"/><circle cx="40.4" cy="161.1" r="2" fill="url(#gPore)"/><circle cx="205.9" cy="166.7" r="2.4" fill="url(#gPore)"/><circle cx="172.8" cy="182" r="4" fill="url(#gPore)"/><circle cx="108.7" cy="126.9" r="2.4" fill="url(#gPore)"/><circle cx="159" cy="114.4" r="2.4" fill="url(#gPore)"/><circle cx="199.4" cy="41.1" r="5.2" fill="url(#gPore)"/><circle cx="178.9" cy="78.9" r="2.4" fill="url(#gPore)"/><circle cx="158.6" cy="54.9" r="2" fill="url(#gPore)"/><circle cx="169.2" cy="51.3" r="2.4" fill="url(#gPore)"/><circle cx="131.2" cy="55.8" r="2" fill="url(#gPore)"/><circle cx="154.4" cy="108.8" r="1.8" fill="url(#gPore)"/><circle cx="117.4" cy="80.1" r="3.2" fill="url(#gPore)"/><circle cx="35.4" cy="133.1" r="2.8" fill="url(#gPore)"/><circle cx="46.6" cy="160.9" r="3.6" fill="url(#gPore)"/><circle cx="14.8" cy="139.3" r="1.8" fill="url(#gPore)"/><circle cx="173" cy="167" r="1.8" fill="url(#gPore)"/><circle cx="54.6" cy="52.5" r="2" fill="url(#gPore)"/><circle cx="11.1" cy="176.7" r="2.8" fill="url(#gPore)"/><circle cx="62.7" cy="161.8" r="4.6" fill="url(#gPore)"/><circle cx="33" cy="89.7" r="2.4" fill="url(#gPore)"/><circle cx="14.7" cy="184.1" r="1.8" fill="url(#gPore)"/><circle cx="185.6" cy="141.5" r="3.6" fill="url(#gPore)"/><circle cx="179.4" cy="169.7" r="1.8" fill="url(#gPore)"/><circle cx="14.3" cy="129.1" r="3.2" fill="url(#gPore)"/><circle cx="72.1" cy="130.1" r="2" fill="url(#gPore)"/><circle cx="35" cy="71" r="4" fill="url(#gPore)"/><circle cx="130" cy="67.8" r="2" fill="url(#gPore)"/><circle cx="67.7" cy="186.9" r="3.2" fill="url(#gPore)"/><circle cx="95.8" cy="133.6" r="2.4" fill="url(#gPore)"/><circle cx="181.9" cy="108.5" r="4.6" fill="url(#gPore)"/><circle cx="64.2" cy="127.3" r="2.4" fill="url(#gPore)"/><circle cx="95" cy="39.3" r="4" fill="url(#gPore)"/><circle cx="96" cy="152.9" r="2" fill="url(#gPore)"/><circle cx="121.7" cy="188.7" r="5.2" fill="url(#gPore)"/><circle cx="118.9" cy="38.5" r="3.6" fill="url(#gPore)"/><circle cx="113.7" cy="130.3" r="2.4" fill="url(#gPore)"/><circle cx="43.4" cy="75.1" r="2" fill="url(#gPore)"/><circle cx="181.8" cy="187.4" r="4" fill="url(#gPore)"/><circle cx="82.2" cy="188" r="1.8" fill="url(#gPore)"/><circle cx="72.3" cy="137.3" r="1.8" fill="url(#gPore)"/><circle cx="202.3" cy="88.4" r="2" fill="url(#gPore)"/><circle cx="131.9" cy="133.6" r="2.8" fill="url(#gPore)"/><circle cx="168.8" cy="39.8" r="2" fill="url(#gPore)"/><circle cx="145.5" cy="136.3" r="3.6" fill="url(#gPore)"/><circle cx="43.1" cy="66.5" r="2" fill="url(#gPore)"/><circle cx="74.1" cy="172.1" r="4.6" fill="url(#gPore)"/><circle cx="66.5" cy="26.2" r="2.4" fill="url(#gPore)"/><circle cx="125.2" cy="100" r="2.8" fill="url(#gPore)"/><circle cx="155" cy="151.6" r="2.8" fill="url(#gPore)"/><circle cx="75.4" cy="132.7" r="2" fill="url(#gPore)"/><circle cx="158.8" cy="28.8" r="1.8" fill="url(#gPore)"/><circle cx="149.7" cy="118.1" r="1.8" fill="url(#gPore)"/><circle cx="30.8" cy="149.5" r="3.2" fill="url(#gPore)"/><circle cx="198.9" cy="168.1" r="1.8" fill="url(#gPore)"/><circle cx="214.5" cy="135.7" r="1.8" fill="url(#gPore)"/><circle cx="164.3" cy="160.6" r="4.6" fill="url(#gPore)"/><circle cx="49.9" cy="73.9" r="2.4" fill="url(#gPore)"/><circle cx="132.1" cy="62.2" r="2" fill="url(#gPore)"/><circle cx="185.8" cy="89.8" r="2.8" fill="url(#gPore)"/><circle cx="71.7" cy="40.5" r="3.2" fill="url(#gPore)"/><circle cx="42.8" cy="34" r="1.8" fill="url(#gPore)"/><circle cx="111" cy="152.9" r="3.6" fill="url(#gPore)"/><circle cx="140.7" cy="178.2" r="3.2" fill="url(#gPore)"/><circle cx="12.4" cy="88" r="2.4" fill="url(#gPore)"/><circle cx="165.1" cy="76.6" r="2.4" fill="url(#gPore)"/><circle cx="85.5" cy="114" r="3.6" fill="url(#gPore)"/><circle cx="185.5" cy="64.3" r="1.8" fill="url(#gPore)"/><circle cx="97.6" cy="69.3" r="1.8" fill="url(#gPore)"/><circle cx="211.9" cy="125.5" r="1.8" fill="url(#gPore)"/><circle cx="191.3" cy="110.6" r="1.8" fill="url(#gPore)"/><circle cx="154.3" cy="46.5" r="3.6" fill="url(#gPore)"/><circle cx="145.4" cy="53.3" r="3.2" fill="url(#gPore)"/><circle cx="28.2" cy="113.7" r="2" fill="url(#gPore)"/><circle cx="31.2" cy="25.5" r="2" fill="url(#gPore)"/><circle cx="209.1" cy="24.3" r="3.6" fill="url(#gPore)"/><circle cx="193" cy="155.7" r="1.8" fill="url(#gPore)"/><circle cx="193.6" cy="123.6" r="2.4" fill="url(#gPore)"/><circle cx="218.3" cy="27.7" r="5.2" fill="url(#gPore)"/><circle cx="84.3" cy="69" r="2.8" fill="url(#gPore)"/><circle cx="85.2" cy="62.7" r="2.8" fill="url(#gPore)"/><circle cx="219.3" cy="47.2" r="2.8" fill="url(#gPore)"/><circle cx="205" cy="120" r="2.4" fill="url(#gPore)"/><circle cx="147.3" cy="183.3" r="2" fill="url(#gPore)"/><circle cx="57.5" cy="25.4" r="1.8" fill="url(#gPore)"/><circle cx="135" cy="35.2" r="3.6" fill="url(#gPore)"/><circle cx="44.2" cy="166.2" r="1.8" fill="url(#gPore)"/><circle cx="37.4" cy="150.1" r="2" fill="url(#gPore)"/><circle cx="83.2" cy="82.4" r="3.6" fill="url(#gPore)"/><circle cx="39.7" cy="185.9" r="3.6" fill="url(#gPore)"/><circle cx="101.1" cy="165.6" r="2.8" fill="url(#gPore)"/><circle cx="30" cy="144.5" r="2" fill="url(#gPore)"/><circle cx="194.3" cy="105.3" r="2.4" fill="url(#gPore)"/><circle cx="194.9" cy="185.6" r="1.8" fill="url(#gPore)"/><circle cx="45.1" cy="136.5" r="2.4" fill="url(#gPore)"/><circle cx="81.4" cy="57.9" r="2.8" fill="url(#gPore)"/><circle cx="209.8" cy="66.6" r="3.6" fill="url(#gPore)"/><circle cx="22.3" cy="155.2" r="2.8" fill="url(#gPore)"/><circle cx="180.2" cy="61.9" r="2.4" fill="url(#gPore)"/><circle cx="118" cy="97.6" r="2" fill="url(#gPore)"/><circle cx="118.5" cy="155.9" r="3.2" fill="url(#gPore)"/><circle cx="34.3" cy="182" r="3.2" fill="url(#gPore)"/><circle cx="138.6" cy="84.1" r="1.8" fill="url(#gPore)"/><circle cx="204" cy="54" r="3.6" fill="url(#gPore)"/><circle cx="46.6" cy="112" r="5.2" fill="url(#gPore)"/><circle cx="115.8" cy="92.2" r="1.8" fill="url(#gPore)"/><circle cx="104.2" cy="140.1" r="1.8" fill="url(#gPore)"/><circle cx="189.8" cy="42.8" r="2.4" fill="url(#gPore)"/><circle cx="31.4" cy="160.4" r="2" fill="url(#gPore)"/><circle cx="49.9" cy="100.6" r="2.8" fill="url(#gPore)"/><circle cx="146.8" cy="30.4" r="3.6" fill="url(#gPore)"/><circle cx="133.9" cy="99.1" r="1.8" fill="url(#gPore)"/><circle cx="67.4" cy="114.7" r="2.4" fill="url(#gPore)"/><circle cx="113.9" cy="170.7" r="1.8" fill="url(#gPore)"/><circle cx="163.3" cy="135.4" r="2.4" fill="url(#gPore)"/><circle cx="175.6" cy="102.1" r="4.6" fill="url(#gPore)"/><circle cx="174.5" cy="37.4" r="3.6" fill="url(#gPore)"/><circle cx="150.3" cy="146.5" r="2.4" fill="url(#gPore)"/><circle cx="146.6" cy="127.6" r="2" fill="url(#gPore)"/><circle cx="193.9" cy="118" r="1.8" fill="url(#gPore)"/><circle cx="90.5" cy="152.9" r="3.6" fill="url(#gPore)"/><circle cx="175.9" cy="22.8" r="4.6" fill="url(#gPore)"/><circle cx="49.8" cy="156.8" r="1.8" fill="url(#gPore)"/><circle cx="119.8" cy="70.2" r="2" fill="url(#gPore)"/><circle cx="42.3" cy="51.5" r="2" fill="url(#gPore)"/><circle cx="172" cy="87.9" r="3.6" fill="url(#gPore)"/><circle cx="35.4" cy="78.6" r="2" fill="url(#gPore)"/><circle cx="203.9" cy="33.2" r="1.8" fill="url(#gPore)"/><circle cx="174.2" cy="135.5" r="2.4" fill="url(#gPore)"/><circle cx="137.4" cy="67.9" r="2" fill="url(#gPore)"/><circle cx="7.7" cy="127.1" r="2.4" fill="url(#gPore)"/><circle cx="132.7" cy="121.5" r="1.8" fill="url(#gPore)"/><circle cx="110" cy="71.1" r="3.6" fill="url(#gPore)"/><circle cx="53.4" cy="154.5" r="2.8" fill="url(#gPore)"/><circle cx="158.9" cy="59.2" r="2.4" fill="url(#gPore)"/><circle cx="166.2" cy="180.4" r="1.8" fill="url(#gPore)"/><circle cx="138" cy="98.3" r="1.8" fill="url(#gPore)"/><circle cx="150.1" cy="186.2" r="2" fill="url(#gPore)"/><circle cx="202.2" cy="144.4" r="2" fill="url(#gPore)"/><circle cx="201.4" cy="161.8" r="1.8" fill="url(#gPore)"/><circle cx="174.8" cy="163.3" r="1.8" fill="url(#gPore)"/><circle cx="153.9" cy="183.6" r="2" fill="url(#gPore)"/><circle cx="145" cy="58.4" r="1.8" fill="url(#gPore)"/></g></g>
<g clip-path="url(#cb2)"><g mask="url(#mb2)"><rect x="634" y="3.5" width="220" height="188.5" fill="#f6efca"/><rect x="634" y="3.5" width="220" height="19" fill="#f5ecc3"/><ellipse cx="734.3" cy="118.9" rx="7.2" ry="12.2" fill="#e2daa6" transform="rotate(0.8 734.3 118.9)"/><ellipse cx="761.8" cy="61.7" rx="5.3" ry="13.7" fill="#e2daa6" transform="rotate(29.3 761.8 61.7)"/><ellipse cx="661.2" cy="79.8" rx="3.4" ry="15.3" fill="#e2daa6" transform="rotate(19.3 661.2 79.8)"/><ellipse cx="650.5" cy="183.3" rx="7.3" ry="13.9" fill="#e2daa6" transform="rotate(11.6 650.5 183.3)"/><ellipse cx="674.1" cy="35.8" rx="5.4" ry="8.5" fill="#e2daa6" transform="rotate(-31 674.1 35.8)"/><ellipse cx="691.4" cy="38.1" rx="5.1" ry="12" fill="#e2daa6" transform="rotate(34.2 691.4 38.1)"/><ellipse cx="747.9" cy="131.1" rx="5.2" ry="14" fill="#e2daa6" transform="rotate(-4.3 747.9 131.1)"/><ellipse cx="698.7" cy="185.6" rx="7.5" ry="15.6" fill="#e2daa6" transform="rotate(20.8 698.7 185.6)"/><ellipse cx="706.3" cy="68.5" rx="4.3" ry="8.6" fill="#e2daa6" transform="rotate(26.6 706.3 68.5)"/><ellipse cx="723.7" cy="162.6" rx="4.7" ry="16.6" fill="#e2daa6" transform="rotate(34.7 723.7 162.6)"/><ellipse cx="642.1" cy="65.5" rx="7.1" ry="12.2" fill="#e2daa6" transform="rotate(48 642.1 65.5)"/><ellipse cx="723.1" cy="44.6" rx="5.8" ry="15" fill="#e2daa6" transform="rotate(-23 723.1 44.6)"/><ellipse cx="659.8" cy="84.2" rx="7.3" ry="14.8" fill="#e2daa6" transform="rotate(-38.2 659.8 84.2)"/><ellipse cx="692.3" cy="48.9" rx="3.3" ry="15.2" fill="#e2daa6" transform="rotate(-32.2 692.3 48.9)"/><ellipse cx="756.1" cy="101.7" rx="3.9" ry="14.6" fill="#e2daa6" transform="rotate(-36.9 756.1 101.7)"/><ellipse cx="773.3" cy="51.3" rx="4.9" ry="9.9" fill="#e2daa6" transform="rotate(-23 773.3 51.3)"/><ellipse cx="840.1" cy="156" rx="4.4" ry="16" fill="#e2daa6" transform="rotate(-28.9 840.1 156)"/><ellipse cx="722.4" cy="163.8" rx="5.9" ry="8.9" fill="#e2daa6" transform="rotate(48.9 722.4 163.8)"/><ellipse cx="685.5" cy="72.9" rx="6.5" ry="11" fill="#e2daa6" transform="rotate(-20.4 685.5 72.9)"/><ellipse cx="657" cy="47.2" rx="5.6" ry="10.2" fill="#e2daa6" transform="rotate(10.1 657 47.2)"/><ellipse cx="717.8" cy="102.6" rx="7.3" ry="12.4" fill="#e2daa6" transform="rotate(7.5 717.8 102.6)"/><ellipse cx="818.8" cy="61.4" rx="3.7" ry="16.2" fill="#e2daa6" transform="rotate(31.8 818.8 61.4)"/><ellipse cx="692.9" cy="62.4" rx="6.3" ry="16.5" fill="#e2daa6" transform="rotate(-30.3 692.9 62.4)"/><ellipse cx="835.8" cy="168" rx="5.7" ry="11.8" fill="#e2daa6" transform="rotate(-39.6 835.8 168)"/><ellipse cx="649.9" cy="180.3" rx="4.1" ry="14.3" fill="#e2daa6" transform="rotate(-24.3 649.9 180.3)"/><ellipse cx="810" cy="124.5" rx="4.3" ry="9.6" fill="#e2daa6" transform="rotate(22 810 124.5)"/><ellipse cx="656" cy="68.3" rx="5.5" ry="15.7" fill="#e2daa6" transform="rotate(11.4 656 68.3)"/><ellipse cx="699.2" cy="173.4" rx="3.9" ry="8.1" fill="#e2daa6" transform="rotate(-23.1 699.2 173.4)"/><ellipse cx="732.9" cy="42.7" rx="3.8" ry="11.3" fill="#e2daa6" transform="rotate(7.2 732.9 42.7)"/><ellipse cx="668.8" cy="88.7" rx="7" ry="16.8" fill="#e2daa6" transform="rotate(15.7 668.8 88.7)"/><ellipse cx="783" cy="122.6" rx="3.6" ry="8.3" fill="#e2daa6" transform="rotate(-48.2 783 122.6)"/><ellipse cx="827.7" cy="140.4" rx="7.3" ry="8.2" fill="#e2daa6" transform="rotate(13.6 827.7 140.4)"/><ellipse cx="740.4" cy="144.9" rx="4.4" ry="17" fill="#e2daa6" transform="rotate(-42.5 740.4 144.9)"/><ellipse cx="753.4" cy="145.9" rx="7.1" ry="14.6" fill="#e2daa6" transform="rotate(20.4 753.4 145.9)"/><ellipse cx="803.8" cy="173" rx="4.6" ry="14.2" fill="#e2daa6" transform="rotate(40.1 803.8 173)"/><ellipse cx="819.7" cy="97.1" rx="6.6" ry="15.8" fill="#e2daa6" transform="rotate(7.3 819.7 97.1)"/><ellipse cx="769.5" cy="91.8" rx="5.6" ry="13.5" fill="#e2daa6" transform="rotate(-42 769.5 91.8)"/><ellipse cx="772.4" cy="185" rx="7" ry="14.6" fill="#e2daa6" transform="rotate(-11.2 772.4 185)"/><ellipse cx="791.9" cy="122.1" rx="5" ry="15.5" fill="#e2daa6" transform="rotate(-41.6 791.9 122.1)"/><ellipse cx="795" cy="38" rx="5.7" ry="12.3" fill="#e2daa6" transform="rotate(-27 795 38)"/><circle cx="786" cy="107.3" r="4.6" fill="url(#gPore)"/><circle cx="692.2" cy="27.4" r="3.2" fill="url(#gPore)"/><circle cx="668.4" cy="126.1" r="5.2" fill="url(#gPore)"/><circle cx="674" cy="174.5" r="4.6" fill="url(#gPore)"/><circle cx="743.6" cy="65.2" r="4" fill="url(#gPore)"/><circle cx="779.2" cy="58.2" r="4" fill="url(#gPore)"/><circle cx="808.4" cy="149.6" r="2.8" fill="url(#gPore)"/><circle cx="824.6" cy="88.7" r="3.6" fill="url(#gPore)"/><circle cx="682.5" cy="47.6" r="3.6" fill="url(#gPore)"/><circle cx="815.5" cy="165.1" r="2" fill="url(#gPore)"/><circle cx="839.4" cy="71" r="2.4" fill="url(#gPore)"/><circle cx="661.9" cy="103" r="2.8" fill="url(#gPore)"/><circle cx="814.1" cy="88.4" r="5.2" fill="url(#gPore)"/><circle cx="742.7" cy="77.4" r="4.6" fill="url(#gPore)"/><circle cx="705.9" cy="161.8" r="3.2" fill="url(#gPore)"/><circle cx="823" cy="32.3" r="3.2" fill="url(#gPore)"/><circle cx="759" cy="76.3" r="1.8" fill="url(#gPore)"/><circle cx="773.9" cy="92.2" r="2.8" fill="url(#gPore)"/><circle cx="643.2" cy="162" r="2.8" fill="url(#gPore)"/><circle cx="803.2" cy="156.6" r="2" fill="url(#gPore)"/><circle cx="732.7" cy="129.1" r="3.6" fill="url(#gPore)"/><circle cx="841.2" cy="138.1" r="2.8" fill="url(#gPore)"/><circle cx="812.7" cy="67.6" r="1.8" fill="url(#gPore)"/><circle cx="798.1" cy="113.5" r="1.8" fill="url(#gPore)"/><circle cx="676" cy="70.3" r="3.6" fill="url(#gPore)"/><circle cx="752.4" cy="181.3" r="5.2" fill="url(#gPore)"/><circle cx="768.3" cy="149.9" r="4" fill="url(#gPore)"/><circle cx="817.9" cy="140.6" r="2.8" fill="url(#gPore)"/><circle cx="656.5" cy="178.9" r="4" fill="url(#gPore)"/><circle cx="665.5" cy="100.1" r="1.8" fill="url(#gPore)"/><circle cx="717.9" cy="119.1" r="5.2" fill="url(#gPore)"/><circle cx="806.9" cy="180.8" r="4.6" fill="url(#gPore)"/><circle cx="707.2" cy="187.1" r="2" fill="url(#gPore)"/><circle cx="791.1" cy="160.1" r="2" fill="url(#gPore)"/><circle cx="683.2" cy="173.5" r="2" fill="url(#gPore)"/><circle cx="845.2" cy="113.8" r="3.6" fill="url(#gPore)"/><circle cx="693.5" cy="143.7" r="1.8" fill="url(#gPore)"/><circle cx="711.9" cy="39.1" r="4.6" fill="url(#gPore)"/><circle cx="710.5" cy="94.8" r="3.2" fill="url(#gPore)"/><circle cx="741.3" cy="30.2" r="2" fill="url(#gPore)"/><circle cx="728.9" cy="31.3" r="5.2" fill="url(#gPore)"/><circle cx="709" cy="155.1" r="2.4" fill="url(#gPore)"/><circle cx="737.8" cy="190" r="5.2" fill="url(#gPore)"/><circle cx="760.7" cy="138.9" r="2.8" fill="url(#gPore)"/><circle cx="731.2" cy="117.4" r="5.2" fill="url(#gPore)"/><circle cx="773.4" cy="111.5" r="5.2" fill="url(#gPore)"/><circle cx="692.4" cy="135.9" r="2.8" fill="url(#gPore)"/><circle cx="702.5" cy="48.7" r="5.2" fill="url(#gPore)"/><circle cx="749.1" cy="119.8" r="2.8" fill="url(#gPore)"/><circle cx="725.1" cy="44.3" r="1.8" fill="url(#gPore)"/><circle cx="766.3" cy="30.1" r="1.8" fill="url(#gPore)"/><circle cx="747.4" cy="91.4" r="2" fill="url(#gPore)"/><circle cx="742.1" cy="139.2" r="2" fill="url(#gPore)"/><circle cx="835.3" cy="101" r="4" fill="url(#gPore)"/><circle cx="695.1" cy="103.3" r="2.4" fill="url(#gPore)"/><circle cx="710" cy="173.7" r="4.6" fill="url(#gPore)"/><circle cx="749.3" cy="43.4" r="4" fill="url(#gPore)"/><circle cx="769" cy="177.7" r="2.4" fill="url(#gPore)"/><circle cx="786.8" cy="186.3" r="1.8" fill="url(#gPore)"/><circle cx="679.2" cy="62.9" r="3.2" fill="url(#gPore)"/><circle cx="706.3" cy="84" r="4.6" fill="url(#gPore)"/><circle cx="660.2" cy="145.7" r="2" fill="url(#gPore)"/><circle cx="818.6" cy="128.1" r="2.8" fill="url(#gPore)"/><circle cx="786.7" cy="170.1" r="1.8" fill="url(#gPore)"/><circle cx="767.7" cy="166.4" r="2.8" fill="url(#gPore)"/><circle cx="831.9" cy="128.8" r="3.6" fill="url(#gPore)"/><circle cx="829.4" cy="77.5" r="3.6" fill="url(#gPore)"/><circle cx="826.8" cy="57.5" r="2.8" fill="url(#gPore)"/><circle cx="826.2" cy="47.5" r="2.8" fill="url(#gPore)"/><circle cx="666.1" cy="40" r="4" fill="url(#gPore)"/><circle cx="658.6" cy="162.4" r="4" fill="url(#gPore)"/><circle cx="753.2" cy="141.4" r="2.8" fill="url(#gPore)"/><circle cx="723.4" cy="138.2" r="1.8" fill="url(#gPore)"/><circle cx="658.4" cy="119.2" r="3.6" fill="url(#gPore)"/><circle cx="831.2" cy="184.8" r="2" fill="url(#gPore)"/><circle cx="787.4" cy="129.9" r="3.6" fill="url(#gPore)"/><circle cx="808.2" cy="104.8" r="1.8" fill="url(#gPore)"/><circle cx="645.9" cy="116.2" r="5.2" fill="url(#gPore)"/><circle cx="829.9" cy="104.7" r="2.8" fill="url(#gPore)"/><circle cx="847.9" cy="178" r="2" fill="url(#gPore)"/><circle cx="760.9" cy="47.6" r="4.6" fill="url(#gPore)"/><circle cx="654.5" cy="41.4" r="4" fill="url(#gPore)"/><circle cx="737" cy="110.3" r="4" fill="url(#gPore)"/><circle cx="682.5" cy="86.9" r="1.8" fill="url(#gPore)"/><circle cx="817" cy="55.3" r="4.6" fill="url(#gPore)"/><circle cx="714.2" cy="86.4" r="2.8" fill="url(#gPore)"/><circle cx="766.2" cy="41.1" r="1.8" fill="url(#gPore)"/><circle cx="758.8" cy="56.9" r="3.6" fill="url(#gPore)"/><circle cx="808.6" cy="68" r="2" fill="url(#gPore)"/><circle cx="795.8" cy="153.5" r="4" fill="url(#gPore)"/><circle cx="666.2" cy="79.8" r="5.2" fill="url(#gPore)"/><circle cx="785.3" cy="151.7" r="2.4" fill="url(#gPore)"/><circle cx="724" cy="144.4" r="2" fill="url(#gPore)"/><circle cx="807" cy="75.1" r="2" fill="url(#gPore)"/><circle cx="640.2" cy="84" r="1.8" fill="url(#gPore)"/><circle cx="687.2" cy="180.9" r="3.2" fill="url(#gPore)"/><circle cx="709.6" cy="134" r="2.4" fill="url(#gPore)"/><circle cx="774.2" cy="140.9" r="4" fill="url(#gPore)"/><circle cx="845.8" cy="29.3" r="2" fill="url(#gPore)"/><circle cx="794.6" cy="67.7" r="4" fill="url(#gPore)"/><circle cx="745" cy="150.7" r="4" fill="url(#gPore)"/><circle cx="640.3" cy="68" r="3.2" fill="url(#gPore)"/><circle cx="830" cy="116" r="5.2" fill="url(#gPore)"/><circle cx="726.1" cy="111.2" r="2" fill="url(#gPore)"/><circle cx="773.3" cy="158.7" r="2" fill="url(#gPore)"/><circle cx="754.5" cy="135.5" r="1.8" fill="url(#gPore)"/><circle cx="719.9" cy="179.9" r="4" fill="url(#gPore)"/><circle cx="738" cy="53.3" r="4.6" fill="url(#gPore)"/><circle cx="722.5" cy="76.9" r="5.2" fill="url(#gPore)"/><circle cx="835" cy="134.7" r="3.2" fill="url(#gPore)"/><circle cx="643.7" cy="152.6" r="1.8" fill="url(#gPore)"/><circle cx="649.2" cy="77.3" r="4" fill="url(#gPore)"/><circle cx="648.6" cy="188.2" r="3.6" fill="url(#gPore)"/><circle cx="668.6" cy="183.4" r="2.8" fill="url(#gPore)"/><circle cx="734.6" cy="59" r="1.8" fill="url(#gPore)"/><circle cx="713.6" cy="51" r="3.6" fill="url(#gPore)"/><circle cx="765.4" cy="130.7" r="4" fill="url(#gPore)"/><circle cx="715.2" cy="147.9" r="2.4" fill="url(#gPore)"/><circle cx="840" cy="146.3" r="2.8" fill="url(#gPore)"/><circle cx="804.3" cy="128.3" r="3.6" fill="url(#gPore)"/><circle cx="696.2" cy="125.8" r="2.8" fill="url(#gPore)"/><circle cx="839.8" cy="108.1" r="2.8" fill="url(#gPore)"/><circle cx="697" cy="149.8" r="2.4" fill="url(#gPore)"/><circle cx="754.7" cy="129.3" r="3.6" fill="url(#gPore)"/><circle cx="710.9" cy="148" r="2" fill="url(#gPore)"/><circle cx="808.1" cy="99.1" r="2.8" fill="url(#gPore)"/><circle cx="732.2" cy="148.4" r="4" fill="url(#gPore)"/><circle cx="728.7" cy="86.2" r="2" fill="url(#gPore)"/><circle cx="654.1" cy="60.6" r="2" fill="url(#gPore)"/><circle cx="777.3" cy="79.3" r="2" fill="url(#gPore)"/><circle cx="730.9" cy="157.6" r="3.2" fill="url(#gPore)"/><circle cx="690.6" cy="85" r="3.6" fill="url(#gPore)"/><circle cx="643.1" cy="136.9" r="4" fill="url(#gPore)"/><circle cx="807" cy="114.4" r="2.4" fill="url(#gPore)"/><circle cx="675.4" cy="150.3" r="3.2" fill="url(#gPore)"/><circle cx="810.1" cy="61.9" r="1.8" fill="url(#gPore)"/><circle cx="753.4" cy="118.8" r="1.8" fill="url(#gPore)"/><circle cx="828.6" cy="39.4" r="2.4" fill="url(#gPore)"/><circle cx="690" cy="61.8" r="5.2" fill="url(#gPore)"/><circle cx="742.7" cy="113.9" r="2" fill="url(#gPore)"/><circle cx="788.1" cy="176" r="4" fill="url(#gPore)"/><circle cx="798.5" cy="187.6" r="3.6" fill="url(#gPore)"/><circle cx="818.9" cy="158.1" r="2" fill="url(#gPore)"/><circle cx="826.4" cy="183.1" r="1.8" fill="url(#gPore)"/><circle cx="727.4" cy="94.7" r="2.4" fill="url(#gPore)"/><circle cx="690.1" cy="52.2" r="4" fill="url(#gPore)"/><circle cx="783" cy="78.3" r="4" fill="url(#gPore)"/><circle cx="775.4" cy="153.1" r="2.4" fill="url(#gPore)"/><circle cx="831.4" cy="149.4" r="1.8" fill="url(#gPore)"/><circle cx="761.8" cy="175.1" r="1.8" fill="url(#gPore)"/><circle cx="704.3" cy="58" r="3.6" fill="url(#gPore)"/><circle cx="764.1" cy="62.3" r="2.4" fill="url(#gPore)"/><circle cx="801.6" cy="40.7" r="2.8" fill="url(#gPore)"/><circle cx="722.7" cy="61.3" r="2.4" fill="url(#gPore)"/><circle cx="777.4" cy="64.6" r="1.8" fill="url(#gPore)"/><circle cx="823.3" cy="174.4" r="4.6" fill="url(#gPore)"/><circle cx="806.9" cy="142.8" r="2.4" fill="url(#gPore)"/><circle cx="726.1" cy="152.5" r="2.4" fill="url(#gPore)"/><circle cx="693" cy="168.5" r="5.2" fill="url(#gPore)"/><circle cx="665.8" cy="147.5" r="3.2" fill="url(#gPore)"/><circle cx="747.4" cy="34.2" r="2.4" fill="url(#gPore)"/><circle cx="638.3" cy="160.6" r="2.4" fill="url(#gPore)"/><circle cx="812.3" cy="39.1" r="3.2" fill="url(#gPore)"/><circle cx="785.1" cy="39.1" r="5.2" fill="url(#gPore)"/><circle cx="819.8" cy="75.4" r="2.8" fill="url(#gPore)"/><circle cx="726.4" cy="176.3" r="2" fill="url(#gPore)"/><circle cx="803.7" cy="97.9" r="1.8" fill="url(#gPore)"/><circle cx="753.2" cy="112" r="2.4" fill="url(#gPore)"/><circle cx="838.7" cy="184.1" r="3.6" fill="url(#gPore)"/><circle cx="703.9" cy="38" r="3.2" fill="url(#gPore)"/><circle cx="849.4" cy="135.2" r="2" fill="url(#gPore)"/><circle cx="714.3" cy="138.5" r="2" fill="url(#gPore)"/><circle cx="779.5" cy="136.7" r="2" fill="url(#gPore)"/><circle cx="776.6" cy="27.5" r="4" fill="url(#gPore)"/><circle cx="757.6" cy="100.9" r="1.8" fill="url(#gPore)"/><circle cx="791.4" cy="80.1" r="4" fill="url(#gPore)"/><circle cx="657.6" cy="48.7" r="2" fill="url(#gPore)"/><circle cx="676.1" cy="91.7" r="4.6" fill="url(#gPore)"/><circle cx="834.5" cy="48.4" r="2.8" fill="url(#gPore)"/><circle cx="740.3" cy="177.1" r="1.8" fill="url(#gPore)"/><circle cx="846.2" cy="155.4" r="5.2" fill="url(#gPore)"/><circle cx="703" cy="98.1" r="5.2" fill="url(#gPore)"/><circle cx="718.1" cy="109.3" r="3.2" fill="url(#gPore)"/><circle cx="812.9" cy="126.1" r="2.4" fill="url(#gPore)"/><circle cx="691.8" cy="114.1" r="3.2" fill="url(#gPore)"/><circle cx="754.2" cy="83.5" r="5.2" fill="url(#gPore)"/><circle cx="758.3" cy="29.9" r="2.8" fill="url(#gPore)"/><circle cx="802.6" cy="47.9" r="4.6" fill="url(#gPore)"/><circle cx="736.2" cy="45.9" r="2.4" fill="url(#gPore)"/><circle cx="798.8" cy="85.2" r="2.4" fill="url(#gPore)"/><circle cx="677.3" cy="115.6" r="2" fill="url(#gPore)"/><circle cx="734.3" cy="91.9" r="2.4" fill="url(#gPore)"/><circle cx="703.2" cy="135.9" r="4" fill="url(#gPore)"/><circle cx="674.8" cy="111" r="3.2" fill="url(#gPore)"/><circle cx="723.5" cy="107.3" r="2" fill="url(#gPore)"/><circle cx="797.4" cy="105.4" r="4.6" fill="url(#gPore)"/><circle cx="812.9" cy="44.8" r="2" fill="url(#gPore)"/><circle cx="793.2" cy="123.8" r="3.2" fill="url(#gPore)"/><circle cx="824.5" cy="189.9" r="3.6" fill="url(#gPore)"/><circle cx="821.7" cy="94.8" r="2.4" fill="url(#gPore)"/><circle cx="685" cy="148.3" r="2" fill="url(#gPore)"/><circle cx="664.2" cy="113.9" r="4.6" fill="url(#gPore)"/><circle cx="643.1" cy="53.8" r="4.6" fill="url(#gPore)"/><circle cx="827.8" cy="159.6" r="4" fill="url(#gPore)"/><circle cx="668" cy="139.4" r="2.8" fill="url(#gPore)"/><circle cx="647.7" cy="30.6" r="3.6" fill="url(#gPore)"/><circle cx="679.4" cy="163.3" r="3.6" fill="url(#gPore)"/><circle cx="680.8" cy="129.5" r="2.8" fill="url(#gPore)"/><circle cx="822.4" cy="142.8" r="2.4" fill="url(#gPore)"/><circle cx="726" cy="53.4" r="3.2" fill="url(#gPore)"/><circle cx="825.5" cy="122.5" r="2.8" fill="url(#gPore)"/><circle cx="845.2" cy="172.8" r="2.4" fill="url(#gPore)"/><circle cx="779.4" cy="71" r="2" fill="url(#gPore)"/><circle cx="765.1" cy="72.3" r="3.2" fill="url(#gPore)"/><circle cx="638.6" cy="172.2" r="1.8" fill="url(#gPore)"/><circle cx="706" cy="105" r="1.8" fill="url(#gPore)"/><circle cx="754.1" cy="67.6" r="2.8" fill="url(#gPore)"/><circle cx="759.4" cy="169.1" r="2.4" fill="url(#gPore)"/><circle cx="706.9" cy="125.6" r="4.6" fill="url(#gPore)"/><circle cx="760.9" cy="144.3" r="2.4" fill="url(#gPore)"/><circle cx="649.4" cy="95.5" r="3.6" fill="url(#gPore)"/><circle cx="786.1" cy="141.3" r="1.8" fill="url(#gPore)"/><circle cx="638.7" cy="92.9" r="5.2" fill="url(#gPore)"/><circle cx="668" cy="90.1" r="3.2" fill="url(#gPore)"/><circle cx="782.1" cy="143.4" r="2.8" fill="url(#gPore)"/><circle cx="726.7" cy="39.6" r="2.8" fill="url(#gPore)"/><circle cx="715.2" cy="80.9" r="2.8" fill="url(#gPore)"/><circle cx="718.8" cy="154" r="2.8" fill="url(#gPore)"/><circle cx="683.5" cy="102.4" r="3.2" fill="url(#gPore)"/><circle cx="714.9" cy="70.7" r="1.8" fill="url(#gPore)"/><circle cx="800.3" cy="144.5" r="2" fill="url(#gPore)"/><circle cx="733.4" cy="166.1" r="4" fill="url(#gPore)"/><circle cx="791.8" cy="135.1" r="2.4" fill="url(#gPore)"/><circle cx="789.1" cy="92.2" r="4" fill="url(#gPore)"/><circle cx="667.7" cy="165" r="4.6" fill="url(#gPore)"/><circle cx="758" cy="158.5" r="3.2" fill="url(#gPore)"/><circle cx="840.5" cy="168.3" r="2.8" fill="url(#gPore)"/><circle cx="787.1" cy="62" r="4" fill="url(#gPore)"/><circle cx="795.5" cy="174.8" r="2.4" fill="url(#gPore)"/><circle cx="663.5" cy="175.1" r="4" fill="url(#gPore)"/><circle cx="810.8" cy="171.4" r="4.6" fill="url(#gPore)"/><circle cx="669.8" cy="57.2" r="2.8" fill="url(#gPore)"/><circle cx="694" cy="42.6" r="1.8" fill="url(#gPore)"/><circle cx="783.5" cy="184.1" r="2.4" fill="url(#gPore)"/><circle cx="743.7" cy="131.8" r="3.6" fill="url(#gPore)"/><circle cx="794.4" cy="169.8" r="2" fill="url(#gPore)"/><circle cx="646.6" cy="127.7" r="4" fill="url(#gPore)"/><circle cx="758.3" cy="94.7" r="2.4" fill="url(#gPore)"/><circle cx="694.8" cy="70.1" r="3.2" fill="url(#gPore)"/><circle cx="648.3" cy="142.8" r="2" fill="url(#gPore)"/><circle cx="793" cy="189" r="2" fill="url(#gPore)"/><circle cx="814.8" cy="117" r="3.2" fill="url(#gPore)"/><circle cx="706.6" cy="28.7" r="2.4" fill="url(#gPore)"/><circle cx="696" cy="91.3" r="3.6" fill="url(#gPore)"/><circle cx="651.6" cy="172.3" r="3.2" fill="url(#gPore)"/><circle cx="848.2" cy="92.7" r="1.8" fill="url(#gPore)"/><circle cx="696.7" cy="179.9" r="2.8" fill="url(#gPore)"/><circle cx="848.8" cy="98.4" r="1.8" fill="url(#gPore)"/><circle cx="675.3" cy="29.9" r="2.4" fill="url(#gPore)"/><circle cx="651.3" cy="102.1" r="2.8" fill="url(#gPore)"/><circle cx="722.6" cy="157.6" r="2" fill="url(#gPore)"/><circle cx="691.1" cy="175.1" r="1.8" fill="url(#gPore)"/><circle cx="720.3" cy="86.3" r="3.2" fill="url(#gPore)"/><circle cx="795.2" cy="60.3" r="2.4" fill="url(#gPore)"/><circle cx="706.2" cy="113.9" r="2.8" fill="url(#gPore)"/><circle cx="729.2" cy="183.9" r="2.8" fill="url(#gPore)"/><circle cx="838.9" cy="78.5" r="2.4" fill="url(#gPore)"/><circle cx="802.9" cy="111.9" r="1.8" fill="url(#gPore)"/><circle cx="730.5" cy="102.4" r="4" fill="url(#gPore)"/><circle cx="759.4" cy="110.3" r="1.8" fill="url(#gPore)"/><circle cx="750" cy="99.8" r="3.2" fill="url(#gPore)"/><circle cx="763.8" cy="123.3" r="3.6" fill="url(#gPore)"/><circle cx="670.2" cy="102.6" r="3.2" fill="url(#gPore)"/><circle cx="751.7" cy="167.9" r="2.8" fill="url(#gPore)"/><circle cx="844.2" cy="36.3" r="2.4" fill="url(#gPore)"/><circle cx="756.7" cy="189.1" r="4" fill="url(#gPore)"/><circle cx="817.1" cy="181.1" r="2.8" fill="url(#gPore)"/><circle cx="785.3" cy="55.2" r="2.4" fill="url(#gPore)"/><circle cx="674.4" cy="121" r="1.8" fill="url(#gPore)"/><circle cx="767.3" cy="84.3" r="2.8" fill="url(#gPore)"/><circle cx="639.7" cy="36.9" r="2.8" fill="url(#gPore)"/><circle cx="801.2" cy="58.4" r="2" fill="url(#gPore)"/><circle cx="687.8" cy="120.8" r="3.2" fill="url(#gPore)"/><circle cx="720.2" cy="147.8" r="2.8" fill="url(#gPore)"/><circle cx="656.7" cy="85.3" r="3.6" fill="url(#gPore)"/><circle cx="779.6" cy="51.1" r="2" fill="url(#gPore)"/><circle cx="714.7" cy="102" r="3.6" fill="url(#gPore)"/><circle cx="658.3" cy="156.2" r="1.8" fill="url(#gPore)"/><circle cx="838.2" cy="172.9" r="1.8" fill="url(#gPore)"/><circle cx="701.9" cy="109" r="2" fill="url(#gPore)"/><circle cx="652.4" cy="64.6" r="2" fill="url(#gPore)"/><circle cx="802.8" cy="66.1" r="4" fill="url(#gPore)"/><circle cx="674.1" cy="42.7" r="2.4" fill="url(#gPore)"/><circle cx="774.3" cy="164.9" r="1.8" fill="url(#gPore)"/><circle cx="834.5" cy="41.5" r="3.2" fill="url(#gPore)"/><circle cx="719.5" cy="132.2" r="3.6" fill="url(#gPore)"/><circle cx="789.2" cy="30.8" r="3.6" fill="url(#gPore)"/><circle cx="841.7" cy="85.6" r="3.6" fill="url(#gPore)"/><circle cx="775.2" cy="86.9" r="2" fill="url(#gPore)"/><circle cx="849.9" cy="106.2" r="4" fill="url(#gPore)"/><circle cx="779.2" cy="115.7" r="2" fill="url(#gPore)"/><circle cx="662.1" cy="168.3" r="2" fill="url(#gPore)"/><circle cx="680.5" cy="141.1" r="4.6" fill="url(#gPore)"/><circle cx="795.4" cy="52.9" r="3.6" fill="url(#gPore)"/><circle cx="680.9" cy="82.5" r="2.4" fill="url(#gPore)"/><circle cx="692.5" cy="36.1" r="3.2" fill="url(#gPore)"/><circle cx="720" cy="44.8" r="2.4" fill="url(#gPore)"/><circle cx="758.4" cy="116.2" r="3.6" fill="url(#gPore)"/><circle cx="741.8" cy="99" r="3.6" fill="url(#gPore)"/><circle cx="800.2" cy="121.3" r="3.6" fill="url(#gPore)"/><circle cx="784.1" cy="85.4" r="3.2" fill="url(#gPore)"/><circle cx="698.7" cy="117.8" r="3.2" fill="url(#gPore)"/><circle cx="734" cy="86.4" r="2.8" fill="url(#gPore)"/><circle cx="702.1" cy="25.9" r="2" fill="url(#gPore)"/><circle cx="656.2" cy="139.8" r="4.6" fill="url(#gPore)"/><circle cx="834.2" cy="170.2" r="2" fill="url(#gPore)"/><circle cx="709.2" cy="141" r="2.4" fill="url(#gPore)"/><circle cx="844.9" cy="181.8" r="2.4" fill="url(#gPore)"/><circle cx="712.3" cy="61.6" r="4" fill="url(#gPore)"/><circle cx="648.1" cy="86.3" r="3.6" fill="url(#gPore)"/><circle cx="835.4" cy="93.6" r="2.8" fill="url(#gPore)"/><circle cx="738.9" cy="160.1" r="1.8" fill="url(#gPore)"/><circle cx="835.5" cy="81.7" r="2.4" fill="url(#gPore)"/><circle cx="677.4" cy="184.3" r="2" fill="url(#gPore)"/><circle cx="700.4" cy="155.9" r="4.6" fill="url(#gPore)"/><circle cx="753.2" cy="71.8" r="1.8" fill="url(#gPore)"/><circle cx="673.3" cy="49.1" r="4" fill="url(#gPore)"/><circle cx="781.7" cy="127.8" r="2.4" fill="url(#gPore)"/><circle cx="651.1" cy="49" r="1.8" fill="url(#gPore)"/><circle cx="744.6" cy="177.9" r="2.8" fill="url(#gPore)"/><circle cx="784.2" cy="98.9" r="3.2" fill="url(#gPore)"/><circle cx="702.3" cy="65.7" r="1.8" fill="url(#gPore)"/><circle cx="845" cy="51.8" r="3.2" fill="url(#gPore)"/><circle cx="846.8" cy="128" r="2.4" fill="url(#gPore)"/><circle cx="822" cy="151.9" r="1.8" fill="url(#gPore)"/><circle cx="686.9" cy="127.2" r="2" fill="url(#gPore)"/><circle cx="737" cy="139.1" r="1.8" fill="url(#gPore)"/><circle cx="661.1" cy="61.3" r="4.6" fill="url(#gPore)"/><circle cx="689.2" cy="79.4" r="2" fill="url(#gPore)"/><circle cx="829.3" cy="66.8" r="5.2" fill="url(#gPore)"/><circle cx="768.4" cy="55.7" r="3.2" fill="url(#gPore)"/><circle cx="847.2" cy="169.2" r="2" fill="url(#gPore)"/><circle cx="692.6" cy="155.7" r="3.2" fill="url(#gPore)"/><circle cx="681.4" cy="97.1" r="2.8" fill="url(#gPore)"/><circle cx="750" cy="107" r="2.4" fill="url(#gPore)"/><circle cx="681.8" cy="29.7" r="2" fill="url(#gPore)"/><circle cx="767.2" cy="187.9" r="2.8" fill="url(#gPore)"/><circle cx="738.3" cy="125" r="3.6" fill="url(#gPore)"/><circle cx="800.5" cy="137.4" r="1.8" fill="url(#gPore)"/><circle cx="658.2" cy="32.8" r="3.6" fill="url(#gPore)"/><circle cx="833.9" cy="74.8" r="1.8" fill="url(#gPore)"/><circle cx="641.4" cy="76.6" r="2.4" fill="url(#gPore)"/><circle cx="657.2" cy="108" r="2.8" fill="url(#gPore)"/><circle cx="810.2" cy="188.3" r="1.8" fill="url(#gPore)"/><circle cx="640.6" cy="144.2" r="2.8" fill="url(#gPore)"/><circle cx="798.8" cy="34.9" r="1.8" fill="url(#gPore)"/><circle cx="791.9" cy="143.2" r="2.8" fill="url(#gPore)"/><circle cx="774.7" cy="187.4" r="3.2" fill="url(#gPore)"/><circle cx="772.6" cy="126.7" r="1.8" fill="url(#gPore)"/><circle cx="663.9" cy="67.2" r="2" fill="url(#gPore)"/><circle cx="654.6" cy="167.7" r="1.8" fill="url(#gPore)"/><circle cx="689.2" cy="132" r="2.4" fill="url(#gPore)"/><circle cx="653.6" cy="111.4" r="2" fill="url(#gPore)"/><circle cx="672" cy="157.1" r="3.6" fill="url(#gPore)"/><circle cx="849.8" cy="163.6" r="3.2" fill="url(#gPore)"/><circle cx="743.3" cy="40.3" r="1.8" fill="url(#gPore)"/><circle cx="773.2" cy="36.2" r="2.8" fill="url(#gPore)"/><circle cx="704.3" cy="147.5" r="4.6" fill="url(#gPore)"/><circle cx="837.5" cy="34.9" r="1.8" fill="url(#gPore)"/><circle cx="738.9" cy="42.1" r="2.4" fill="url(#gPore)"/><circle cx="832.7" cy="86.8" r="3.6" fill="url(#gPore)"/><circle cx="818.7" cy="104.8" r="5.2" fill="url(#gPore)"/><circle cx="666" cy="47.9" r="2" fill="url(#gPore)"/><circle cx="697.6" cy="33.5" r="2.4" fill="url(#gPore)"/><circle cx="680.1" cy="38.2" r="2.8" fill="url(#gPore)"/><circle cx="831.2" cy="154.1" r="2" fill="url(#gPore)"/><circle cx="835.7" cy="158.1" r="3.2" fill="url(#gPore)"/><circle cx="730.9" cy="67.9" r="2.4" fill="url(#gPore)"/><circle cx="664.7" cy="158.4" r="2" fill="url(#gPore)"/><circle cx="657.6" cy="93" r="2.4" fill="url(#gPore)"/><circle cx="701.4" cy="77.6" r="3.2" fill="url(#gPore)"/><circle cx="638.2" cy="115.6" r="2" fill="url(#gPore)"/><circle cx="836.7" cy="59.8" r="2" fill="url(#gPore)"/><circle cx="715.5" cy="95.8" r="2" fill="url(#gPore)"/><circle cx="662.2" cy="154.7" r="1.8" fill="url(#gPore)"/><circle cx="647.3" cy="105.9" r="2" fill="url(#gPore)"/><circle cx="765.4" cy="183.3" r="2" fill="url(#gPore)"/><circle cx="674.3" cy="188.6" r="2.8" fill="url(#gPore)"/><circle cx="764.2" cy="160.3" r="2" fill="url(#gPore)"/><circle cx="657.7" cy="127.9" r="1.8" fill="url(#gPore)"/><circle cx="747.2" cy="111.8" r="2.4" fill="url(#gPore)"/><circle cx="777.2" cy="73.9" r="1.8" fill="url(#gPore)"/><circle cx="777.6" cy="41.9" r="2" fill="url(#gPore)"/><circle cx="843.8" cy="60.3" r="2.8" fill="url(#gPore)"/><circle cx="795.8" cy="44.5" r="1.8" fill="url(#gPore)"/><circle cx="758.1" cy="37.7" r="1.8" fill="url(#gPore)"/><circle cx="735.4" cy="27.9" r="2.4" fill="url(#gPore)"/><circle cx="788.2" cy="116.7" r="3.6" fill="url(#gPore)"/><circle cx="696.2" cy="139.1" r="2" fill="url(#gPore)"/><circle cx="808" cy="81.3" r="2.8" fill="url(#gPore)"/><circle cx="821.7" cy="147.4" r="1.8" fill="url(#gPore)"/><circle cx="816.1" cy="188.2" r="2.4" fill="url(#gPore)"/><circle cx="719.6" cy="37" r="1.8" fill="url(#gPore)"/><circle cx="638.9" cy="102.4" r="2" fill="url(#gPore)"/><circle cx="651.2" cy="52.4" r="1.8" fill="url(#gPore)"/><circle cx="638.5" cy="176.4" r="2" fill="url(#gPore)"/><circle cx="782.5" cy="158.5" r="4.6" fill="url(#gPore)"/><circle cx="813.8" cy="158.1" r="2.8" fill="url(#gPore)"/><circle cx="661" cy="42.9" r="2" fill="url(#gPore)"/><circle cx="761.4" cy="67.8" r="1.8" fill="url(#gPore)"/><circle cx="737.9" cy="182.9" r="2" fill="url(#gPore)"/><circle cx="749" cy="53.8" r="4.6" fill="url(#gPore)"/><circle cx="714.7" cy="164.8" r="3.2" fill="url(#gPore)"/><circle cx="701.2" cy="30" r="2.4" fill="url(#gPore)"/><circle cx="654.4" cy="154.7" r="2.4" fill="url(#gPore)"/><circle cx="710.3" cy="110.2" r="1.8" fill="url(#gPore)"/><circle cx="795.5" cy="40.7" r="2" fill="url(#gPore)"/><circle cx="738.8" cy="85" r="2" fill="url(#gPore)"/><circle cx="689.1" cy="104.8" r="2.8" fill="url(#gPore)"/><circle cx="820" cy="39.1" r="2.8" fill="url(#gPore)"/><circle cx="801.8" cy="26.6" r="4.6" fill="url(#gPore)"/><circle cx="729.3" cy="138" r="4" fill="url(#gPore)"/><circle cx="721.8" cy="164.6" r="1.8" fill="url(#gPore)"/><circle cx="716" cy="27.6" r="4.6" fill="url(#gPore)"/><circle cx="653.9" cy="189.5" r="2" fill="url(#gPore)"/><circle cx="805.7" cy="71.5" r="1.8" fill="url(#gPore)"/><circle cx="778.7" cy="178.6" r="4.6" fill="url(#gPore)"/><circle cx="669.6" cy="67.1" r="2" fill="url(#gPore)"/><circle cx="671.4" cy="134.2" r="3.2" fill="url(#gPore)"/><circle cx="812.3" cy="142.9" r="2" fill="url(#gPore)"/></g></g>
<path d="M64.5 -2C64.9 0.3 66.1 6.7 67 12C67.9 17.3 68.7 23.7 70 30C71.3 36.3 73.3 42.7 75 50C76.7 57.3 78.6 66.8 80 74C81.4 81.2 82.7 86.7 83.5 93C84.3 99.3 84.2 105.2 85 112C85.8 118.8 87.3 127.2 88.5 134C89.7 140.8 91.4 149.8 92 153L135.5 153C136.1 149.8 137.8 140.8 139 134C140.2 127.2 141.8 118.8 142.6 112C143.4 105.2 143.2 99 143.8 93C144.5 87 145.1 82.3 146.5 76C147.9 69.7 150.8 62 152.5 55C154.2 48 155.7 41.2 157 34C158.3 26.8 159.6 18 160.5 12C161.4 6 162.2 0.3 162.5 -2Z" fill="#e8505a"/>
<path d="M67 12L70 30L75 50L80 74L83.5 93L83 60L79 30L75 8Z" fill="#ef6d73" opacity=".55"/>
<path d="M155 20q4 8 1 22q-3 6-4-2q2-12 3-20z" fill="#f07a7e" opacity=".7"/>
<g clip-path="url(#ciL)"><rect x="80" y="0" width="66" height="175" fill="url(#gImp)"/><path d="M80 11.7L146 7.3" stroke="#3a3a3a" stroke-width="1.5"/><path d="M80 13.1L146 8.7" stroke="#929292" stroke-width="1" opacity=".55"/><path d="M80 23.9L146 19.5" stroke="#3a3a3a" stroke-width="1.5"/><path d="M80 25.3L146 20.9" stroke="#929292" stroke-width="1" opacity=".55"/><path d="M80 36.1L146 31.7" stroke="#3a3a3a" stroke-width="1.5"/><path d="M80 37.5L146 33.1" stroke="#929292" stroke-width="1" opacity=".55"/><path d="M80 48.3L146 43.9" stroke="#3a3a3a" stroke-width="1.5"/><path d="M80 49.7L146 45.3" stroke="#929292" stroke-width="1" opacity=".55"/><path d="M80 60.5L146 56.1" stroke="#3a3a3a" stroke-width="1.5"/><path d="M80 61.9L146 57.5" stroke="#929292" stroke-width="1" opacity=".55"/><path d="M80 72.7L146 68.3" stroke="#3a3a3a" stroke-width="1.5"/><path d="M80 74.1L146 69.7" stroke="#929292" stroke-width="1" opacity=".55"/><path d="M80 84.9L146 80.5" stroke="#3a3a3a" stroke-width="1.5"/><path d="M80 86.3L146 81.9" stroke="#929292" stroke-width="1" opacity=".55"/><path d="M80 97.1L146 92.7" stroke="#3a3a3a" stroke-width="1.5"/><path d="M80 98.5L146 94.1" stroke="#929292" stroke-width="1" opacity=".55"/><path d="M80 109.3L146 104.9" stroke="#3a3a3a" stroke-width="1.5"/><path d="M80 110.7L146 106.3" stroke="#929292" stroke-width="1" opacity=".55"/><path d="M80 121.5L146 117.1" stroke="#3a3a3a" stroke-width="1.5"/><path d="M80 122.9L146 118.5" stroke="#929292" stroke-width="1" opacity=".55"/><path d="M80 133.7L146 129.3" stroke="#3a3a3a" stroke-width="1.5"/><path d="M80 135.1L146 130.7" stroke="#929292" stroke-width="1" opacity=".55"/><path d="M80 145.9L146 141.5" stroke="#3a3a3a" stroke-width="1.5"/><path d="M80 147.3L146 142.9" stroke="#929292" stroke-width="1" opacity=".55"/><path d="M80 158.1L146 153.7" stroke="#3a3a3a" stroke-width="1.5"/><path d="M80 159.5L146 155.1" stroke="#929292" stroke-width="1" opacity=".55"/><path d="M80 170.3L146 165.9" stroke="#3a3a3a" stroke-width="1.5"/><path d="M80 171.7L146 167.3" stroke="#929292" stroke-width="1" opacity=".55"/><rect x="80" y="1" width="66" height="2" fill="#b5b5b5" opacity="0.9"/><path d="M97 21q8-2.5 16-1.5q8 .5 17-3" stroke="#525252" stroke-width="2.6" fill="none" stroke-linecap="round"/><path d="M104 82.5q7-2 13-1.5q6 0 12-2.5" stroke="#525252" stroke-width="2.6" fill="none" stroke-linecap="round"/><path d="M100 118q6-2 11-1.5q6 0 12-2.5" stroke="#525252" stroke-width="2.6" fill="none" stroke-linecap="round"/></g>
<g clip-path="url(#ciR)"><rect x="708.6" y="1.5" width="66" height="175" fill="url(#gImp)"/><path d="M708.6 13.2L774.6 8.8" stroke="#3a3a3a" stroke-width="1.5"/><path d="M708.6 14.6L774.6 10.2" stroke="#929292" stroke-width="1" opacity=".55"/><path d="M708.6 25.4L774.6 21" stroke="#3a3a3a" stroke-width="1.5"/><path d="M708.6 26.8L774.6 22.4" stroke="#929292" stroke-width="1" opacity=".55"/><path d="M708.6 37.6L774.6 33.2" stroke="#3a3a3a" stroke-width="1.5"/><path d="M708.6 39L774.6 34.6" stroke="#929292" stroke-width="1" opacity=".55"/><path d="M708.6 49.8L774.6 45.4" stroke="#3a3a3a" stroke-width="1.5"/><path d="M708.6 51.2L774.6 46.8" stroke="#929292" stroke-width="1" opacity=".55"/><path d="M708.6 62L774.6 57.6" stroke="#3a3a3a" stroke-width="1.5"/><path d="M708.6 63.4L774.6 59" stroke="#929292" stroke-width="1" opacity=".55"/><path d="M708.6 74.2L774.6 69.8" stroke="#3a3a3a" stroke-width="1.5"/><path d="M708.6 75.6L774.6 71.2" stroke="#929292" stroke-width="1" opacity=".55"/><path d="M708.6 86.4L774.6 82" stroke="#3a3a3a" stroke-width="1.5"/><path d="M708.6 87.8L774.6 83.4" stroke="#929292" stroke-width="1" opacity=".55"/><path d="M708.6 98.6L774.6 94.2" stroke="#3a3a3a" stroke-width="1.5"/><path d="M708.6 100L774.6 95.6" stroke="#929292" stroke-width="1" opacity=".55"/><path d="M708.6 110.8L774.6 106.4" stroke="#3a3a3a" stroke-width="1.5"/><path d="M708.6 112.2L774.6 107.8" stroke="#929292" stroke-width="1" opacity=".55"/><path d="M708.6 123L774.6 118.6" stroke="#3a3a3a" stroke-width="1.5"/><path d="M708.6 124.4L774.6 120" stroke="#929292" stroke-width="1" opacity=".55"/><path d="M708.6 135.2L774.6 130.8" stroke="#3a3a3a" stroke-width="1.5"/><path d="M708.6 136.6L774.6 132.2" stroke="#929292" stroke-width="1" opacity=".55"/><path d="M708.6 147.4L774.6 143" stroke="#3a3a3a" stroke-width="1.5"/><path d="M708.6 148.8L774.6 144.4" stroke="#929292" stroke-width="1" opacity=".55"/><path d="M708.6 159.6L774.6 155.2" stroke="#3a3a3a" stroke-width="1.5"/><path d="M708.6 161L774.6 156.6" stroke="#929292" stroke-width="1" opacity=".55"/><path d="M708.6 171.8L774.6 167.4" stroke="#3a3a3a" stroke-width="1.5"/><path d="M708.6 173.2L774.6 168.8" stroke="#929292" stroke-width="1" opacity=".55"/><rect x="708.6" y="2.5" width="66" height="2" fill="#b5b5b5" opacity="0.25"/><rect x="708.6" y="1.5" width="66" height="175" fill="#686868" opacity=".3"/><path d="M724 13.5q9-2.5 17-1.5q9 0 18-3" stroke="#525252" stroke-width="2.6" fill="none" stroke-linecap="round"/><path d="M736 21.5q5-1.5 10-1.5" stroke="#525252" stroke-width="2.6" fill="none" stroke-linecap="round"/><path d="M728 84.5q6-2.5 12-1.5q6 0 11-2.5" stroke="#525252" stroke-width="2.6" fill="none" stroke-linecap="round"/><path d="M729 120q6-2 11-1.5q6 0 12-2.5" stroke="#525252" stroke-width="2.6" fill="none" stroke-linecap="round"/></g>
<path d="M134 39H154.5M134 79H154.5" stroke="#111" stroke-width="1.5" fill="none" stroke-dasharray="5.5 9.5"/><path d="M134 39V79M154.5 39V79" stroke="#111" stroke-width="1.5" fill="none" stroke-dasharray="5.5 6"/>
<path d="M762.8 40.4H783M762.8 80H783" stroke="#111" stroke-width="1.5" fill="none" stroke-dasharray="5.5 9.2"/><path d="M762.8 40.4V80M783 40.4V80" stroke="#111" stroke-width="1.5" fill="none" stroke-dasharray="5.5 5.9"/>
<path d="M659 60q3-3 5 0q3 1 1 4q-3 4-6 1q-2-3 0-5z" fill="#efb3a0"/>
<path d="M270 116C260 128 246 140 227.7 152.4C205 166 178 178 150 189.4C120 200 90 207 55 212L70 236C100 228 125 219 150 209.5C185 198 222 187 256 175.3C285 163 310 142 331 116Z" fill="url(#gs1)"/>
<path d="M350 116C342 135 330 160 312 185C298 205 280 220 262 230L372 230C390 205 405 180 412 155C414 140 413 128 411 116Z" fill="url(#gs2)"/>
<path d="M430 116C426 135 428 155 440 180C452 202 470 218 488 230L600 230C575 205 552 180 532 155C515 135 500 125 491 116Z" fill="url(#gs3)"/>
<path d="M509 116C525 135 550 160 590 184C630 205 680 220 720 228L830 228C770 215 700 190 650 165C615 147 590 130 571 116Z" fill="url(#gs4)"/>
<text x="269.5" y="148.5" font-size="22" text-anchor="middle" fill="#6f6761" transform="rotate(46 269.5 141)" style='font-family:"Liberation Sans",sans-serif;font-weight:bold;font-style:italic'>1</text>
<text x="369" y="169.5" font-size="28" text-anchor="middle" fill="#737373" style='font-family:"Liberation Serif",serif;font-weight:bold;font-style:italic'>2</text>
<text x="476.5" y="170" font-size="28" text-anchor="middle" fill="#737380" transform="rotate(6 476 160)" style='font-family:"Liberation Serif",serif;font-weight:bold;font-style:italic'>3</text>
<text x="573" y="151" font-size="24" text-anchor="middle" fill="#8a7f78" transform="rotate(32 573 143.5)" style='font-family:"Liberation Sans",sans-serif;font-weight:bold;font-style:italic'>4</text>
<rect x="255.3" y="110.5" width="325" height="5.4" fill="#0a0a0a"/>
<rect x="270.6" y="110.5" width="60.7" height="5.4" fill="#f0a850"/>
<rect x="350.3" y="110.5" width="61" height="5.4" fill="#a9cd5c"/>
<rect x="430.3" y="110.5" width="60.7" height="5.4" fill="#7a9bcb"/>
<rect x="509.6" y="110.5" width="61.2" height="5.4" fill="#c8814a"/>
<path d="M577 94.1L611.4 112.9L577.3 131.3Q590.5 113 577 94.1Z" fill="#0a0a0a"/>
<text x="297.4" y="103" font-size="29.7" style='font-family:"Liberation Sans",sans-serif;font-weight:bold;fill:#0a0a0a'>Osseointegration</text>
<g transform="translate(19 225)"><g clip-path="url(#cP)"><use href="#boneB"/><use href="#pink"/><use href="#bone"/><use href="#blood"/><use href="#imp"/><use href="#PB" transform="translate(52.8 15.5) rotate(-15) scale(0.93)"/><use href="#PP" transform="translate(35.5 39) rotate(5) scale(0.93)"/><use href="#PP" transform="translate(40.5 69.5) rotate(-58) scale(0.93)"/><use href="#PB" transform="translate(52.6 99) rotate(20) scale(0.95)"/><use href="#PB" transform="translate(34.5 121) rotate(-15) scale(0.93)"/><use href="#PP" transform="translate(46 157.5) rotate(-36) scale(0.93)"/><use href="#PB" transform="translate(35.4 196.2) rotate(-5) scale(0.93)"/><use href="#PP" transform="translate(41.4 225) rotate(-33) scale(0.93)"/><use href="#PB" transform="translate(55.2 251.2) rotate(21) scale(0.93)"/></g><rect x="1.7" y="1.7" width="130.8" height="262.3" fill="none" stroke="#e7ab55" stroke-width="3.4"/></g>
<g transform="translate(254.3 225.2)"><g clip-path="url(#cP)"><use href="#boneB"/><use href="#pink"/><use href="#bone"/><use href="#blood"/><use href="#imp"/><use href="#M1" transform="translate(45.7 27.4)"/><use href="#PL" transform="translate(25.7 34) scale(1.05)"/><use href="#M2" transform="translate(59.7 60.8) rotate(20)"/><use href="#NE" transform="translate(41.7 104)"/><use href="#M2" transform="translate(38.7 131.7) rotate(-20)"/><use href="#M1" transform="translate(72.7 154.4) rotate(30)"/><use href="#PL" transform="translate(33.4 158) rotate(40)"/><use href="#NE" transform="translate(39.2 204.6) rotate(40)"/><use href="#M2" transform="translate(51.7 238) rotate(-30)"/></g><rect x="1.7" y="1.7" width="130.8" height="262.3" fill="none" stroke="#a6cc5b" stroke-width="3.4"/></g>
<g transform="translate(485.4 225.2)"><g clip-path="url(#cP)"><use href="#boneB"/><use href="#pink"/><use href="#bone"/><use href="#blood"/><use href="#imp"/><use href="#OB" transform="translate(71.6 18.5)"/><use href="#M1" transform="translate(43.6 48) rotate(-20) scale(1.05)"/><use href="#OB3" transform="translate(56.5 75)"/><use href="#NE" transform="translate(47 107.4)"/><use href="#MSC" transform="translate(70 130) rotate(30)"/><use href="#OB" transform="translate(72 168.5) rotate(-10) scale(0.95)"/><use href="#M2" transform="translate(37 182)"/><use href="#MSC" transform="translate(49.6 207) rotate(-15)"/><use href="#OB3" transform="translate(54.3 232) rotate(-10) scale(0.95)"/><use href="#MSC" transform="translate(54.3 251) rotate(25) scale(0.8)"/></g><rect x="1.7" y="1.7" width="130.8" height="262.3" fill="none" stroke="#7f9fd1" stroke-width="3.4"/></g>
<g transform="translate(688.6 225.2)"><g clip-path="url(#cP)"><use href="#boneB"/><path d="M0 0L104.8 0C104.5 1.3 103.9 3.8 103 8C102.1 12.2 99.4 20 99.4 25C99.4 30 100.8 33 103 38C105.2 43 111.2 50 112.4 55C113.6 60 111.3 63.7 110 68C108.7 72.3 105.5 76.7 104.8 81C104.1 85.3 104.7 89.7 106 94C107.3 98.3 111.6 102.7 112.4 107C113.2 111.3 113.1 115.5 111 120C108.9 124.5 102.2 130.3 100 134C97.8 137.7 97.5 139 98 142C98.5 145 101.8 148.8 103 152C104.2 155.2 105.7 157.7 105.5 161C105.3 164.3 103.6 168.8 102 172C100.4 175.2 98.7 176.8 96 180C93.3 183.2 88.8 187 86 191C83.2 195 80.7 199.5 79 204C77.3 208.5 76.4 212.2 75.6 218C74.8 223.8 74.5 232.8 74 239C73.5 245.2 72.8 250.5 72.5 255C72.2 259.5 72.1 264.2 72 266L0 266Z" fill="#f6f0cb" filter="url(#blur3)"/><use href="#bone"/><use href="#imp"/><path d="M100.5 72.5C92 90 80 100 70 108C58 118 50 130 47 142" stroke="#e8936a" stroke-width="3.6" fill="none" stroke-linecap="round"/><path d="M100.5 72.5C92 90 80 100 70 108C58 118 50 130 47 142" stroke="#f3b391" stroke-width="1" fill="none" opacity=".8" stroke-linecap="round"/><path d="M53 96.5C60 96 64 100 70 101" stroke="#e9966b" stroke-width="1.6" fill="none" stroke-linecap="round"/><ellipse cx="100.8" cy="72" rx="2.3" ry="1.4" fill="#f6d6c0" stroke="#dc8a62" stroke-width=".9" transform="rotate(-28 100.8 72)"/></g><rect x="1.7" y="1.7" width="130.8" height="262.3" fill="none" stroke="#c9874f" stroke-width="3.4"/></g>
<text x="88.5" y="514" font-size="21.6" text-anchor="middle" style='font-family:"Liberation Sans",sans-serif;fill:#111'>Protein adsorption</text>
<text x="320" y="514" font-size="21.6" text-anchor="middle" style='font-family:"Liberation Sans",sans-serif;fill:#111'>Inflammatory cell adhesion</text>
<text x="319.8" y="534.6" font-size="21.6" text-anchor="middle" style='font-family:"Liberation Sans",sans-serif;fill:#111'>&amp;</text>
<text x="320" y="555" font-size="21.6" text-anchor="middle" style='font-family:"Liberation Sans",sans-serif;fill:#111'>Inflammatory response</text>
<text x="553.3" y="515.5" font-size="21.6" text-anchor="middle" style='font-family:"Liberation Sans",sans-serif;fill:#111'>Additional relevant</text>
<text x="554" y="541" font-size="21.6" text-anchor="middle" style='font-family:"Liberation Sans",sans-serif;fill:#111'>cells adhesion</text>
<text x="758.2" y="515.4" font-size="21.6" text-anchor="middle" style='font-family:"Liberation Sans",sans-serif;fill:#111'>Angiogenesis</text>
<text x="758" y="537.8" font-size="21.6" text-anchor="middle" style='font-family:"Liberation Sans",sans-serif;fill:#111'>&amp;</text>
<text x="758.5" y="557.7" font-size="21.6" text-anchor="middle" style='font-family:"Liberation Sans",sans-serif;fill:#111'>Osteogenesis</text>
<use href="#PB" transform="translate(106 603) scale(0.82)"/>
<ellipse cx="105.5" cy="602" rx="1.4" ry="2.6" fill="#5f86c6"/>
<use href="#PP" transform="translate(117.5 603.5) scale(0.82)"/>
<text x="130" y="609.9" font-size="16.8" text-anchor="start" style='font-family:"Liberation Sans",sans-serif;fill:#111'>Protein layer</text>
<path d="M95.3 615C96.5 620 97.5 624 100 629" stroke="#7d2a1f" stroke-width="1.5" fill="none" stroke-linecap="round"/>
<path d="M64 624.6C74 624 84 624.8 92 626.6C102 629 112 632.6 126.5 632.6L126.5 636.6C112 637.4 101 632.6 91 629.6C82 627 74 626.4 64 626.2Z" fill="#d5533b"/>
<path d="M70 625.6C84 625 96 628.6 108 632.4C114 634 120 634.6 126 634.4" stroke="#b53b29" stroke-width="1" fill="none"/>
<text x="130" y="641" font-size="16.8" text-anchor="start" style='font-family:"Liberation Sans",sans-serif;fill:#111'>Blood vessel</text>
<use href="#M1" transform="translate(276 605) scale(1.14 0.88)"/>
<text x="294.5" y="609.9" font-size="16.5" text-anchor="start" style='font-family:"Liberation Sans",sans-serif;fill:#111'>M1 macrophage</text>
<use href="#M2" transform="translate(276 635.5) scale(1.08 0.86)"/>
<text x="294.5" y="641" font-size="16.5" text-anchor="start" style='font-family:"Liberation Sans",sans-serif;fill:#111'>M2 macrophage</text>
<use href="#NE" transform="translate(468 604) scale(1.05 0.86)"/>
<text x="485" y="609.9" font-size="16.8" text-anchor="start" style='font-family:"Liberation Sans",sans-serif;fill:#111'>Neutrophil</text>
<use href="#PL" transform="translate(469.7 635)"/>
<text x="485" y="641" font-size="16.8" text-anchor="start" style='font-family:"Liberation Sans",sans-serif;fill:#111'>Blood platelet</text>
<use href="#OBL" transform="translate(634 605)"/>
<text x="652.5" y="609.9" font-size="16.8" text-anchor="start" style='font-family:"Liberation Sans",sans-serif;fill:#111'>Osteoblast</text>
<use href="#MSC" transform="translate(634 637) scale(1.04)"/>
<text x="654.5" y="641" font-size="17.1" text-anchor="start" style='font-family:"Liberation Sans",sans-serif;fill:#111'>Mesenchymal stem cell</text>
</svg></body></html>
